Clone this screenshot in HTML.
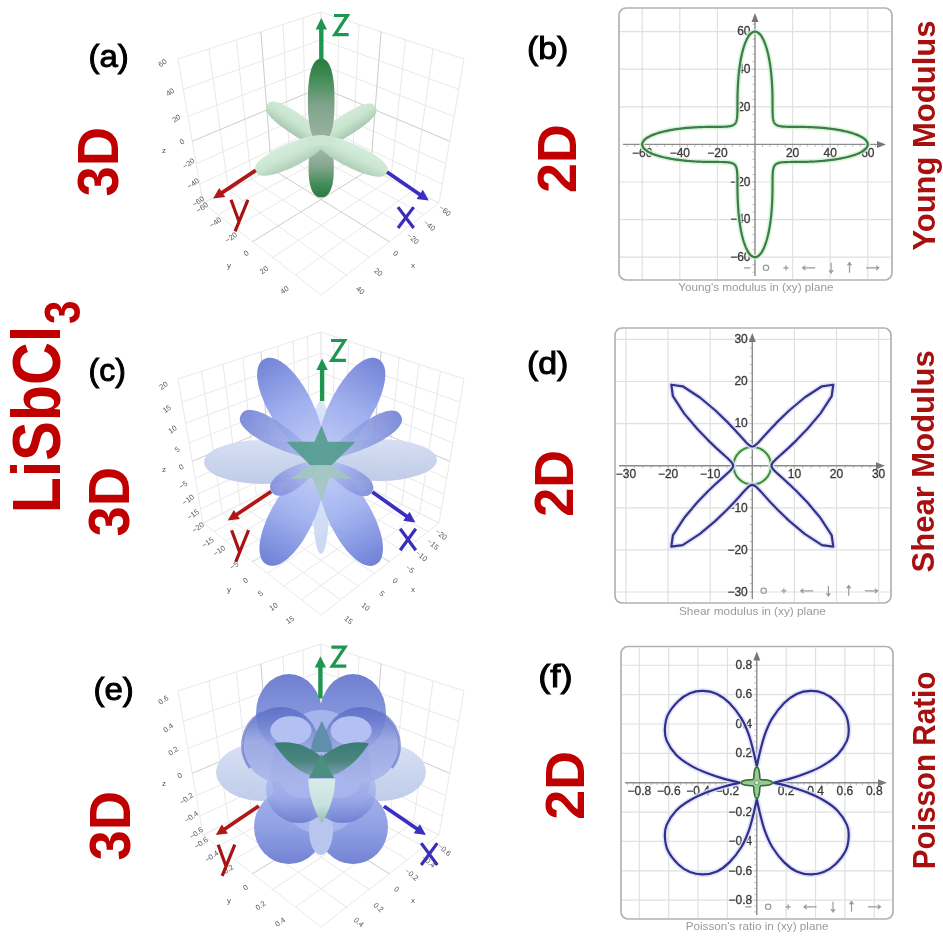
<!DOCTYPE html>
<html><head><meta charset="utf-8"><style>html,body{margin:0;padding:0;background:#fff;overflow:hidden}svg{display:block;filter:blur(0.45px)}</style></head>
<body><svg width="943" height="942" viewBox="0 0 943 942" font-family="'Liberation Sans', sans-serif">
<rect width="943" height="942" fill="#fff"/>
<defs><linearGradient id="g1" x1="0" y1="0" x2="0" y2="1"><stop offset="0" stop-color="#d2ebd8" stop-opacity="1"/><stop offset="0.5" stop-color="#c8e4cf" stop-opacity="1"/><stop offset="1" stop-color="#a8c8b1" stop-opacity="1"/></linearGradient><linearGradient id="g2" x1="0" y1="0" x2="0" y2="1"><stop offset="0" stop-color="#d4ecda" stop-opacity="1"/><stop offset="0.45" stop-color="#cbe6d2" stop-opacity="1"/><stop offset="1" stop-color="#adcdb5" stop-opacity="1"/></linearGradient><linearGradient id="g3" gradientUnits="userSpaceOnUse" x1="359.1" y1="146.2" x2="348.9" y2="167.4"><stop offset="0" stop-color="#d6eddc" stop-opacity="1"/><stop offset="0.5" stop-color="#cbe6d2" stop-opacity="1"/><stop offset="1" stop-color="#aecfb7" stop-opacity="1"/></linearGradient><linearGradient id="g4" gradientUnits="userSpaceOnUse" x1="283.4" y1="145.6" x2="293.3" y2="166.9"><stop offset="0" stop-color="#d6eddc" stop-opacity="1"/><stop offset="0.5" stop-color="#cbe6d2" stop-opacity="1"/><stop offset="1" stop-color="#aecfb7" stop-opacity="1"/></linearGradient><linearGradient id="g5" x1="0" y1="0" x2="1" y2="0"><stop offset="0" stop-color="#2a7b40" stop-opacity="1"/><stop offset="0.2" stop-color="#3d8a52" stop-opacity="1"/><stop offset="0.55" stop-color="#7fa48a" stop-opacity="1"/><stop offset="1" stop-color="#9db4a4" stop-opacity="1"/></linearGradient><linearGradient id="g6" x1="0" y1="0" x2="1" y2="0"><stop offset="0" stop-color="#aec0b4" stop-opacity="1"/><stop offset="0.45" stop-color="#88a892" stop-opacity="1"/><stop offset="0.8" stop-color="#3f8a55" stop-opacity="1"/><stop offset="1" stop-color="#2a7b40" stop-opacity="1"/></linearGradient><linearGradient id="g7" x1="0" y1="0" x2="0" y2="1"><stop offset="0" stop-color="#d6def2" stop-opacity="0.95"/><stop offset="0.5" stop-color="#c8d3ec" stop-opacity="0.95"/><stop offset="1" stop-color="#bcc9e7" stop-opacity="0.95"/></linearGradient><linearGradient id="g8" x1="0" y1="0" x2="0" y2="1"><stop offset="0" stop-color="#dde5f8" stop-opacity="0.9"/><stop offset="1" stop-color="#c5d2f2" stop-opacity="0.9"/></linearGradient><linearGradient id="g9" gradientUnits="userSpaceOnUse" x1="321.0" y1="461.0" x2="264.0" y2="359.3"><stop offset="0" stop-color="#c4cff6" stop-opacity="0.95"/><stop offset="0.5" stop-color="#9dadee" stop-opacity="0.95"/><stop offset="1" stop-color="#7080d6" stop-opacity="0.97"/></linearGradient><linearGradient id="g10" gradientUnits="userSpaceOnUse" x1="321.0" y1="461.0" x2="378.5" y2="359.3"><stop offset="0" stop-color="#c4cff6" stop-opacity="0.95"/><stop offset="0.5" stop-color="#9dadee" stop-opacity="0.95"/><stop offset="1" stop-color="#7080d6" stop-opacity="0.97"/></linearGradient><linearGradient id="g11" gradientUnits="userSpaceOnUse" x1="321.0" y1="461.0" x2="266.8" y2="564.5"><stop offset="0" stop-color="#c6d2f7" stop-opacity="0.95"/><stop offset="0.5" stop-color="#9fb0ef" stop-opacity="0.95"/><stop offset="1" stop-color="#6c7dd6" stop-opacity="0.97"/></linearGradient><linearGradient id="g12" gradientUnits="userSpaceOnUse" x1="321.0" y1="461.0" x2="375.7" y2="564.5"><stop offset="0" stop-color="#c6d2f7" stop-opacity="0.95"/><stop offset="0.5" stop-color="#9fb0ef" stop-opacity="0.95"/><stop offset="1" stop-color="#6c7dd6" stop-opacity="0.97"/></linearGradient><linearGradient id="g13" gradientUnits="userSpaceOnUse" x1="321.0" y1="461.0" x2="241.2" y2="414.5"><stop offset="0" stop-color="#b2c0f2" stop-opacity="0.85"/><stop offset="1" stop-color="#7484d6" stop-opacity="0.93"/></linearGradient><linearGradient id="g14" gradientUnits="userSpaceOnUse" x1="321.0" y1="461.0" x2="400.6" y2="415.2"><stop offset="0" stop-color="#b2c0f2" stop-opacity="0.85"/><stop offset="1" stop-color="#7484d6" stop-opacity="0.93"/></linearGradient><linearGradient id="g15" gradientUnits="userSpaceOnUse" x1="321.0" y1="461.0" x2="271.5" y2="491.5"><stop offset="0" stop-color="#b8c5f3" stop-opacity="0.85"/><stop offset="1" stop-color="#7d8cda" stop-opacity="0.93"/></linearGradient><linearGradient id="g16" gradientUnits="userSpaceOnUse" x1="321.0" y1="461.0" x2="372.0" y2="492.0"><stop offset="0" stop-color="#b8c5f3" stop-opacity="0.85"/><stop offset="1" stop-color="#7d8cda" stop-opacity="0.93"/></linearGradient><linearGradient id="g17" x1="0" y1="0" x2="0" y2="1"><stop offset="0" stop-color="#d6dff3" stop-opacity="0.95"/><stop offset="0.5" stop-color="#c9d4ee" stop-opacity="0.95"/><stop offset="1" stop-color="#bccaea" stop-opacity="0.95"/></linearGradient><linearGradient id="g18" x1="0" y1="0" x2="0" y2="1"><stop offset="0" stop-color="#7080d0" stop-opacity="1"/><stop offset="0.5" stop-color="#8494dc" stop-opacity="1"/><stop offset="1" stop-color="#97a7e5" stop-opacity="1"/></linearGradient><linearGradient id="g19" x1="0" y1="0" x2="0" y2="1"><stop offset="0" stop-color="#a3b2ec" stop-opacity="1"/><stop offset="0.5" stop-color="#91a1e4" stop-opacity="1"/><stop offset="1" stop-color="#7383d4" stop-opacity="1"/></linearGradient><linearGradient id="g20" x1="0" y1="0" x2="0" y2="1"><stop offset="0" stop-color="#aebaed" stop-opacity="0.6"/><stop offset="0.6" stop-color="#98a7e6" stop-opacity="0.7"/><stop offset="1" stop-color="#6677cc" stop-opacity="0.85"/></linearGradient><linearGradient id="g21" x1="0" y1="0" x2="0" y2="1"><stop offset="0" stop-color="#5d6ec6" stop-opacity="0.92"/><stop offset="0.22" stop-color="#6f80d0" stop-opacity="0.9"/><stop offset="0.5" stop-color="#94a3e2" stop-opacity="0.85"/><stop offset="1" stop-color="#aab6ea" stop-opacity="0.85"/></linearGradient><linearGradient id="g22" x1="0" y1="0" x2="0" y2="1"><stop offset="0" stop-color="#3a7d74" stop-opacity="1"/><stop offset="0.55" stop-color="#4a857e" stop-opacity="1"/><stop offset="1" stop-color="#7d9fb5" stop-opacity="1"/></linearGradient><linearGradient id="g23" x1="0" y1="0" x2="0" y2="1"><stop offset="0" stop-color="#d6ebea" stop-opacity="1"/><stop offset="0.6" stop-color="#c6e2de" stop-opacity="1"/><stop offset="1" stop-color="#8fbfae" stop-opacity="1"/></linearGradient></defs><path d="M321.0,144.0L203.0,203.0 M321.0,144.0L439.0,203.0 M321.0,144.0L321.0,12.0 M321.0,144.0L203.0,203.0 M321.0,144.0L321.0,12.0 M321.0,144.0L439.0,203.0 M335.9,151.5L217.9,214.6 M306.1,151.5L424.1,214.6 M306.1,151.5L302.9,17.9 M321.0,126.7L199.7,184.2 M335.9,151.5L339.1,17.9 M321.0,126.7L442.3,184.2 M352.4,159.7L234.4,227.5 M289.6,159.7L407.6,227.5 M289.6,159.7L283.0,24.5 M321.0,107.9L196.2,163.7 M352.4,159.7L359.0,24.5 M321.0,107.9L445.8,163.7 M390.8,178.9L272.8,257.4 M251.2,178.9L369.2,257.4 M251.2,178.9L236.4,39.8 M321.0,64.7L188.0,116.5 M390.8,178.9L405.6,39.8 M321.0,64.7L454.0,116.5 M413.5,190.2L295.5,275.1 M228.5,190.2L346.5,275.1 M228.5,190.2L208.9,48.8 M321.0,39.7L183.3,89.3 M413.5,190.2L433.1,48.8 M321.0,39.7L458.7,89.3 M439.0,203.0L321.0,295.0 M203.0,203.0L321.0,295.0 M203.0,203.0L178.0,59.0 M321.0,12.0L178.0,59.0 M439.0,203.0L464.0,59.0 M321.0,12.0L464.0,59.0" stroke="#e9e9e9" stroke-width="1" fill="none"/><path d="M370.6,168.8L252.6,241.7 M271.4,168.8L389.4,241.7 M271.4,168.8L260.9,31.7 M321.0,87.3L192.3,141.2 M370.6,168.8L381.1,31.7 M321.0,87.3L449.7,141.2" stroke="#cdcdcd" stroke-width="1" fill="none"/><text transform="translate(164.0,65.0) rotate(-35)" font-size="7.5" fill="#555" text-anchor="middle">60</text><text transform="translate(171.6,94.2) rotate(-35)" font-size="7.5" fill="#555" text-anchor="middle">40</text><text transform="translate(177.8,120.4) rotate(-35)" font-size="7.5" fill="#555" text-anchor="middle">20</text><text transform="translate(183.5,143.8) rotate(-35)" font-size="7.5" fill="#555" text-anchor="middle">0</text><text transform="translate(190.0,165.5) rotate(-35)" font-size="7.5" fill="#555" text-anchor="middle">−20</text><text transform="translate(194.5,185.5) rotate(-35)" font-size="7.5" fill="#555" text-anchor="middle">−40</text><text transform="translate(199.7,203.5) rotate(-35)" font-size="7.5" fill="#555" text-anchor="middle">−60</text><text transform="translate(203.5,209.5) rotate(-35)" font-size="7.5" fill="#555" text-anchor="middle">−60</text><text transform="translate(216.8,224.5) rotate(-35)" font-size="7.5" fill="#555" text-anchor="middle">−40</text><text transform="translate(232.5,239.5) rotate(-35)" font-size="7.5" fill="#555" text-anchor="middle">−20</text><text transform="translate(247.6,255.3) rotate(-35)" font-size="7.5" fill="#555" text-anchor="middle">0</text><text transform="translate(265.4,272.0) rotate(-35)" font-size="7.5" fill="#555" text-anchor="middle">20</text><text transform="translate(286.0,292.0) rotate(-35)" font-size="7.5" fill="#555" text-anchor="middle">40</text><text transform="translate(443.4,212.5) rotate(40)" font-size="7.5" fill="#555" text-anchor="middle">−60</text><text transform="translate(427.8,227.3) rotate(40)" font-size="7.5" fill="#555" text-anchor="middle">−40</text><text transform="translate(411.4,240.5) rotate(40)" font-size="7.5" fill="#555" text-anchor="middle">−20</text><text transform="translate(394.0,255.3) rotate(40)" font-size="7.5" fill="#555" text-anchor="middle">0</text><text transform="translate(376.8,274.1) rotate(40)" font-size="7.5" fill="#555" text-anchor="middle">20</text><text transform="translate(358.8,292.2) rotate(40)" font-size="7.5" fill="#555" text-anchor="middle">40</text><text x="164" y="153" font-size="8" fill="#555" text-anchor="middle">z</text><text x="229" y="268" font-size="8" fill="#555" text-anchor="middle">y</text><text x="413" y="268" font-size="8" fill="#555" text-anchor="middle">x</text><path d="M36.48,0.00 L36.42,1.38 L36.25,2.30 L35.96,3.10 L35.55,3.82 L35.03,4.49 L34.40,5.11 L33.65,5.68 L32.79,6.22 L31.82,6.73 L30.73,7.20 L29.53,7.64 L28.22,8.05 L26.79,8.42 L25.26,8.76 L23.60,9.07 L21.83,9.35 L19.93,9.59 L17.91,9.81 L15.74,9.99 L13.40,10.14 L10.87,10.25 L8.07,10.33 L4.84,10.38 L0.00,10.40 L-4.84,10.38 L-8.07,10.33 L-10.87,10.25 L-13.40,10.14 L-15.74,9.99 L-17.91,9.81 L-19.93,9.59 L-21.83,9.35 L-23.60,9.07 L-25.26,8.76 L-26.79,8.42 L-28.22,8.05 L-29.53,7.64 L-30.73,7.20 L-31.82,6.73 L-32.79,6.22 L-33.65,5.68 L-34.40,5.11 L-35.03,4.49 L-35.55,3.82 L-35.96,3.10 L-36.25,2.30 L-36.42,1.38 L-36.48,0.00 L-36.42,-1.38 L-36.25,-2.30 L-35.96,-3.10 L-35.55,-3.82 L-35.03,-4.49 L-34.40,-5.11 L-33.65,-5.68 L-32.79,-6.22 L-31.82,-6.73 L-30.73,-7.20 L-29.53,-7.64 L-28.22,-8.05 L-26.79,-8.42 L-25.26,-8.76 L-23.60,-9.07 L-21.83,-9.35 L-19.93,-9.59 L-17.91,-9.81 L-15.74,-9.99 L-13.40,-10.14 L-10.87,-10.25 L-8.07,-10.33 L-4.84,-10.38 L-0.00,-10.40 L4.84,-10.38 L8.07,-10.33 L10.87,-10.25 L13.40,-10.14 L15.74,-9.99 L17.91,-9.81 L19.93,-9.59 L21.83,-9.35 L23.60,-9.07 L25.26,-8.76 L26.79,-8.42 L28.22,-8.05 L29.53,-7.64 L30.73,-7.20 L31.82,-6.73 L32.79,-6.22 L33.65,-5.68 L34.40,-5.11 L35.03,-4.49 L35.55,-3.82 L35.96,-3.10 L36.25,-2.30 L36.42,-1.38Z" transform="translate(297.41,125.04) rotate(34.08)" fill="url(#g1)" /><path d="M36.11,0.00 L36.06,1.38 L35.88,2.30 L35.60,3.10 L35.20,3.82 L34.68,4.49 L34.06,5.11 L33.32,5.68 L32.46,6.22 L31.50,6.73 L30.42,7.20 L29.24,7.64 L27.94,8.05 L26.53,8.42 L25.00,8.76 L23.37,9.07 L21.61,9.35 L19.73,9.59 L17.73,9.81 L15.58,9.99 L13.27,10.14 L10.76,10.25 L7.99,10.33 L4.79,10.38 L0.00,10.40 L-4.79,10.38 L-7.99,10.33 L-10.76,10.25 L-13.27,10.14 L-15.58,9.99 L-17.73,9.81 L-19.73,9.59 L-21.61,9.35 L-23.37,9.07 L-25.00,8.76 L-26.53,8.42 L-27.94,8.05 L-29.24,7.64 L-30.42,7.20 L-31.50,6.73 L-32.46,6.22 L-33.32,5.68 L-34.06,5.11 L-34.68,4.49 L-35.20,3.82 L-35.60,3.10 L-35.88,2.30 L-36.06,1.38 L-36.11,0.00 L-36.06,-1.38 L-35.88,-2.30 L-35.60,-3.10 L-35.20,-3.82 L-34.68,-4.49 L-34.06,-5.11 L-33.32,-5.68 L-32.46,-6.22 L-31.50,-6.73 L-30.42,-7.20 L-29.24,-7.64 L-27.94,-8.05 L-26.53,-8.42 L-25.00,-8.76 L-23.37,-9.07 L-21.61,-9.35 L-19.73,-9.59 L-17.73,-9.81 L-15.58,-9.99 L-13.27,-10.14 L-10.76,-10.25 L-7.99,-10.33 L-4.79,-10.38 L-0.00,-10.40 L4.79,-10.38 L7.99,-10.33 L10.76,-10.25 L13.27,-10.14 L15.58,-9.99 L17.73,-9.81 L19.73,-9.59 L21.61,-9.35 L23.37,-9.07 L25.00,-8.76 L26.53,-8.42 L27.94,-8.05 L29.24,-7.64 L30.42,-7.20 L31.50,-6.73 L32.46,-6.22 L33.32,-5.68 L34.06,-5.11 L34.68,-4.49 L35.20,-3.82 L35.60,-3.10 L35.88,-2.30 L36.06,-1.38Z" transform="translate(344.77,125.99) rotate(-32.28)" fill="url(#g1)" /><path d="M42.10,0.00 L42.02,1.37 L41.80,2.44 L41.42,3.41 L40.90,4.31 L40.23,5.17 L39.41,5.97 L38.45,6.74 L37.34,7.46 L36.10,8.15 L34.71,8.79 L33.19,9.40 L31.54,9.96 L29.75,10.49 L27.84,10.97 L25.80,11.40 L23.63,11.80 L21.33,12.15 L18.91,12.45 L16.35,12.71 L13.65,12.92 L10.78,13.09 L7.72,13.21 L4.34,13.28 L0.00,13.30 L-4.34,13.28 L-7.72,13.21 L-10.78,13.09 L-13.65,12.92 L-16.35,12.71 L-18.91,12.45 L-21.33,12.15 L-23.63,11.80 L-25.80,11.40 L-27.84,10.97 L-29.75,10.49 L-31.54,9.96 L-33.19,9.40 L-34.71,8.79 L-36.10,8.15 L-37.34,7.46 L-38.45,6.74 L-39.41,5.97 L-40.23,5.17 L-40.90,4.31 L-41.42,3.41 L-41.80,2.44 L-42.02,1.37 L-42.10,0.00 L-42.02,-1.37 L-41.80,-2.44 L-41.42,-3.41 L-40.90,-4.31 L-40.23,-5.17 L-39.41,-5.97 L-38.45,-6.74 L-37.34,-7.46 L-36.10,-8.15 L-34.71,-8.79 L-33.19,-9.40 L-31.54,-9.96 L-29.75,-10.49 L-27.84,-10.97 L-25.80,-11.40 L-23.63,-11.80 L-21.33,-12.15 L-18.91,-12.45 L-16.35,-12.71 L-13.65,-12.92 L-10.78,-13.09 L-7.72,-13.21 L-4.34,-13.28 L-0.00,-13.30 L4.34,-13.28 L7.72,-13.21 L10.78,-13.09 L13.65,-12.92 L16.35,-12.71 L18.91,-12.45 L21.33,-12.15 L23.63,-11.80 L25.80,-11.40 L27.84,-10.97 L29.75,-10.49 L31.54,-9.96 L33.19,-9.40 L34.71,-8.79 L36.10,-8.15 L37.34,-7.46 L38.45,-6.74 L39.41,-5.97 L40.23,-5.17 L40.90,-4.31 L41.42,-3.41 L41.80,-2.44 L42.02,-1.37Z" transform="translate(321.20,100.90) rotate(90.00)" fill="url(#g5)" /><path d="M29.20,0.00 L29.15,1.30 L28.99,2.31 L28.73,3.23 L28.37,4.09 L27.90,4.89 L27.34,5.66 L26.67,6.38 L25.90,7.07 L25.04,7.72 L24.08,8.33 L23.02,8.90 L21.88,9.44 L20.64,9.93 L19.31,10.39 L17.89,10.80 L16.39,11.18 L14.80,11.51 L13.11,11.80 L11.34,12.04 L9.47,12.24 L7.48,12.40 L5.35,12.51 L3.01,12.58 L0.00,12.60 L-3.01,12.58 L-5.35,12.51 L-7.48,12.40 L-9.47,12.24 L-11.34,12.04 L-13.11,11.80 L-14.80,11.51 L-16.39,11.18 L-17.89,10.80 L-19.31,10.39 L-20.64,9.93 L-21.88,9.44 L-23.02,8.90 L-24.08,8.33 L-25.04,7.72 L-25.90,7.07 L-26.67,6.38 L-27.34,5.66 L-27.90,4.89 L-28.37,4.09 L-28.73,3.23 L-28.99,2.31 L-29.15,1.30 L-29.20,0.00 L-29.15,-1.30 L-28.99,-2.31 L-28.73,-3.23 L-28.37,-4.09 L-27.90,-4.89 L-27.34,-5.66 L-26.67,-6.38 L-25.90,-7.07 L-25.04,-7.72 L-24.08,-8.33 L-23.02,-8.90 L-21.88,-9.44 L-20.64,-9.93 L-19.31,-10.39 L-17.89,-10.80 L-16.39,-11.18 L-14.80,-11.51 L-13.11,-11.80 L-11.34,-12.04 L-9.47,-12.24 L-7.48,-12.40 L-5.35,-12.51 L-3.01,-12.58 L-0.00,-12.60 L3.01,-12.58 L5.35,-12.51 L7.48,-12.40 L9.47,-12.24 L11.34,-12.04 L13.11,-11.80 L14.80,-11.51 L16.39,-11.18 L17.89,-10.80 L19.31,-10.39 L20.64,-9.93 L21.88,-9.44 L23.02,-8.90 L24.08,-8.33 L25.04,-7.72 L25.90,-7.07 L26.67,-6.38 L27.34,-5.66 L27.90,-4.89 L28.37,-4.09 L28.73,-3.23 L28.99,-2.31 L29.15,-1.30Z" transform="translate(321.20,168.20) rotate(90.00)" fill="url(#g6)" /><path d="M314.69,137.98 L314.45,138.66 L314.38,139.41 L314.46,140.24 L314.69,141.13 L315.08,142.08 L315.62,143.09 L316.31,144.15 L317.15,145.27 L318.13,146.43 L319.25,147.63 L320.50,148.87 L321.88,150.14 L323.38,151.44 L325.00,152.76 L326.72,154.09 L328.55,155.43 L330.47,156.78 L332.47,158.13 L334.55,159.47 L336.70,160.80 L338.91,162.11 L341.16,163.39 L343.45,164.65 L345.78,165.87 L348.12,167.05 L350.47,168.19 L352.82,169.27 L355.16,170.30 L357.48,171.27 L359.77,172.17 L362.02,173.01 L364.22,173.77 L366.36,174.45 L368.44,175.05 L370.44,175.56 L372.36,175.99 L374.19,176.33 L375.92,176.57 L377.54,176.71 L379.06,176.75 L380.46,176.69 L381.74,176.52 L382.90,176.24 L383.93,175.85 L384.84,175.33 L385.63,174.68 L386.31,173.84 L387.00,172.60 L387.00,172.60 L387.54,171.28 L387.76,170.23 L387.77,169.20 L387.61,168.17 L387.27,167.12 L386.76,166.04 L386.08,164.94 L385.25,163.81 L384.27,162.66 L383.14,161.48 L381.87,160.28 L380.46,159.07 L378.93,157.84 L377.27,156.60 L375.50,155.36 L373.63,154.12 L371.65,152.88 L369.59,151.65 L367.45,150.43 L365.24,149.23 L362.98,148.06 L360.66,146.91 L358.30,145.79 L355.91,144.70 L353.50,143.66 L351.09,142.66 L348.67,141.71 L346.27,140.82 L343.89,139.98 L341.54,139.20 L339.23,138.48 L336.98,137.83 L334.79,137.25 L332.67,136.74 L330.63,136.31 L328.67,135.95 L326.82,135.68 L325.07,135.48 L323.43,135.36 L321.91,135.32 L320.52,135.37 L319.26,135.50 L318.13,135.71 L317.14,136.01 L316.30,136.38 L315.61,136.84 L315.07,137.37 L314.69,137.98Z" fill="url(#g3)" /><path d="M327.34,138.04 L326.96,137.42 L326.43,136.89 L325.75,136.42 L324.92,136.04 L323.95,135.73 L322.84,135.50 L321.59,135.35 L320.21,135.28 L318.71,135.30 L317.09,135.39 L315.36,135.56 L313.52,135.81 L311.59,136.14 L309.57,136.54 L307.47,137.02 L305.30,137.56 L303.07,138.18 L300.79,138.86 L298.46,139.60 L296.10,140.40 L293.73,141.26 L291.33,142.17 L288.94,143.13 L286.56,144.14 L284.19,145.18 L281.85,146.26 L279.56,147.38 L277.31,148.52 L275.12,149.68 L273.00,150.86 L270.96,152.06 L269.00,153.27 L267.14,154.48 L265.39,155.69 L263.74,156.90 L262.22,158.10 L260.83,159.29 L259.56,160.46 L258.44,161.62 L257.46,162.76 L256.64,163.87 L255.97,164.96 L255.46,166.03 L255.12,167.07 L254.95,168.10 L254.96,169.12 L255.18,170.18 L255.70,171.50 L255.70,171.50 L256.38,172.75 L257.05,173.59 L257.83,174.26 L258.72,174.79 L259.74,175.20 L260.89,175.49 L262.15,175.68 L263.53,175.76 L265.03,175.74 L266.64,175.62 L268.35,175.41 L270.16,175.10 L272.06,174.70 L274.04,174.22 L276.10,173.65 L278.22,173.00 L280.40,172.28 L282.63,171.48 L284.90,170.61 L287.19,169.68 L289.51,168.69 L291.84,167.64 L294.17,166.54 L296.49,165.40 L298.79,164.22 L301.06,163.00 L303.29,161.75 L305.48,160.47 L307.61,159.18 L309.67,157.88 L311.66,156.56 L313.56,155.24 L315.37,153.93 L317.08,152.63 L318.69,151.34 L320.18,150.06 L321.55,148.82 L322.79,147.60 L323.90,146.42 L324.88,145.27 L325.71,144.17 L326.40,143.12 L326.93,142.12 L327.32,141.18 L327.56,140.30 L327.64,139.48 L327.57,138.72 L327.34,138.04Z" fill="url(#g4)" /><ellipse cx="321" cy="140.8" rx="15" ry="5" fill="#cbe6d1"/><path d="M321.3,59.5L321.3,28.5" stroke="#1e9650" stroke-width="4.4" fill="none"/><path d="M321.3,18.1L327.0,29.5L315.6,29.5Z" fill="#1e9650"/><path d="M255.7,170.4L221.4,193.1" stroke="#b01818" stroke-width="3.8" fill="none"/><path d="M213.1,198.6L219.2,187.9L225.3,197.1Z" fill="#b01818"/><path d="M387.0,172.0L420.5,195.0" stroke="#3a2ec4" stroke-width="3.8" fill="none"/><path d="M428.8,200.6L416.6,198.9L422.8,189.8Z" fill="#3a2ec4"/><path d="M334.0,15.5H347.4L334.8,34.6H348.7" stroke="#1e9650" stroke-width="3.2" fill="none" stroke-linejoin="miter"/><path d="M231.0,199.8L238.9,221.3M247.9,199.8L235.1,231.4" stroke="#a81212" stroke-width="3.2" fill="none" stroke-linecap="butt"/><path d="M398.0,207.1L413.7,228.0M413.7,207.1L398.0,228.0" stroke="#3a2eb8" stroke-width="3.2" fill="none"/><path d="M321.0,464.0L203.0,523.0 M321.0,464.0L439.0,523.0 M321.0,464.0L321.0,332.0 M321.0,464.0L203.0,523.0 M321.0,464.0L321.0,332.0 M321.0,464.0L439.0,523.0 M332.1,469.5L214.1,531.6 M309.9,469.5L427.9,531.6 M309.9,469.5L307.6,336.4 M321.0,451.2L200.6,509.0 M332.1,469.5L334.4,336.4 M321.0,451.2L441.4,509.0 M344.0,475.5L226.0,540.9 M298.0,475.5L416.0,540.9 M298.0,475.5L293.2,341.1 M321.0,437.5L198.0,494.1 M344.0,475.5L348.8,341.1 M321.0,437.5L444.0,494.1 M356.8,481.9L238.8,550.9 M285.2,481.9L403.2,550.9 M285.2,481.9L277.7,346.2 M321.0,423.0L195.2,478.2 M356.8,481.9L364.3,346.2 M321.0,423.0L446.8,478.2 M385.6,496.3L267.6,573.3 M256.4,496.3L374.4,573.3 M256.4,496.3L242.8,357.7 M321.0,390.6L189.1,442.9 M385.6,496.3L399.2,357.7 M321.0,390.6L452.9,442.9 M401.8,504.4L283.8,586.0 M240.2,504.4L358.2,586.0 M240.2,504.4L223.1,364.2 M321.0,372.5L185.7,423.2 M401.8,504.4L418.9,364.2 M321.0,372.5L456.3,423.2 M419.6,513.3L301.6,599.8 M222.4,513.3L340.4,599.8 M222.4,513.3L201.5,371.3 M321.0,353.1L182.0,402.0 M419.6,513.3L440.5,371.3 M321.0,353.1L460.0,402.0 M439.0,523.0L321.0,615.0 M203.0,523.0L321.0,615.0 M203.0,523.0L178.0,379.0 M321.0,332.0L178.0,379.0 M439.0,523.0L464.0,379.0 M321.0,332.0L464.0,379.0" stroke="#e9e9e9" stroke-width="1" fill="none"/><path d="M370.6,488.8L252.6,561.7 M271.4,488.8L389.4,561.7 M271.4,488.8L260.9,351.7 M321.0,407.3L192.3,461.2 M370.6,488.8L381.1,351.7 M321.0,407.3L449.7,461.2" stroke="#cdcdcd" stroke-width="1" fill="none"/><text transform="translate(165.0,387.5) rotate(-35)" font-size="7.5" fill="#555" text-anchor="middle">20</text><text transform="translate(168.3,410.9) rotate(-35)" font-size="7.5" fill="#555" text-anchor="middle">15</text><text transform="translate(173.9,431.5) rotate(-35)" font-size="7.5" fill="#555" text-anchor="middle">10</text><text transform="translate(178.7,451.5) rotate(-35)" font-size="7.5" fill="#555" text-anchor="middle">5</text><text transform="translate(182.6,469.0) rotate(-35)" font-size="7.5" fill="#555" text-anchor="middle">0</text><text transform="translate(184.6,487.0) rotate(-35)" font-size="7.5" fill="#555" text-anchor="middle">−5</text><text transform="translate(189.5,501.8) rotate(-35)" font-size="7.5" fill="#555" text-anchor="middle">−10</text><text transform="translate(194.4,516.6) rotate(-35)" font-size="7.5" fill="#555" text-anchor="middle">−15</text><text transform="translate(199.4,529.5) rotate(-35)" font-size="7.5" fill="#555" text-anchor="middle">−20</text><text transform="translate(209.2,544.6) rotate(-35)" font-size="7.5" fill="#555" text-anchor="middle">−15</text><text transform="translate(220.7,552.8) rotate(-35)" font-size="7.5" fill="#555" text-anchor="middle">−10</text><text transform="translate(235.6,567.6) rotate(-35)" font-size="7.5" fill="#555" text-anchor="middle">−5</text><text transform="translate(247.0,582.5) rotate(-35)" font-size="7.5" fill="#555" text-anchor="middle">0</text><text transform="translate(261.9,595.6) rotate(-35)" font-size="7.5" fill="#555" text-anchor="middle">5</text><text transform="translate(275.0,608.8) rotate(-35)" font-size="7.5" fill="#555" text-anchor="middle">10</text><text transform="translate(291.5,621.9) rotate(-35)" font-size="7.5" fill="#555" text-anchor="middle">15</text><text transform="translate(439.6,536.4) rotate(40)" font-size="7.5" fill="#555" text-anchor="middle">−20</text><text transform="translate(431.3,546.3) rotate(40)" font-size="7.5" fill="#555" text-anchor="middle">−15</text><text transform="translate(419.8,557.8) rotate(40)" font-size="7.5" fill="#555" text-anchor="middle">−10</text><text transform="translate(408.3,570.9) rotate(40)" font-size="7.5" fill="#555" text-anchor="middle">−5</text><text transform="translate(393.5,582.5) rotate(40)" font-size="7.5" fill="#555" text-anchor="middle">0</text><text transform="translate(380.3,595.6) rotate(40)" font-size="7.5" fill="#555" text-anchor="middle">5</text><text transform="translate(363.9,608.8) rotate(40)" font-size="7.5" fill="#555" text-anchor="middle">10</text><text transform="translate(347.0,621.9) rotate(40)" font-size="7.5" fill="#555" text-anchor="middle">15</text><text x="164" y="472" font-size="8" fill="#555" text-anchor="middle">z</text><text x="229" y="592" font-size="8" fill="#555" text-anchor="middle">y</text><text x="413" y="592" font-size="8" fill="#555" text-anchor="middle">x</text><ellipse cx="263" cy="462" rx="59" ry="22" fill="url(#g7)"/><ellipse cx="379" cy="460" rx="58" ry="21" fill="url(#g7)"/><ellipse cx="321" cy="507" rx="8" ry="47" fill="url(#g8)"/><ellipse cx="321" cy="425" rx="7" ry="25" fill="url(#g8)"/><path d="M321.00,461.00 L321.51,460.57 L322.10,459.81 L322.66,458.79 L323.17,457.51 L323.60,456.00 L323.94,454.26 L324.19,452.32 L324.34,450.18 L324.38,447.85 L324.30,445.34 L324.11,442.67 L323.80,439.86 L323.37,436.91 L322.82,433.84 L322.15,430.66 L321.36,427.38 L320.46,424.04 L319.43,420.63 L318.30,417.17 L317.05,413.68 L315.70,410.18 L314.25,406.68 L312.70,403.20 L311.06,399.75 L309.34,396.34 L307.53,393.00 L305.66,389.74 L303.72,386.57 L301.73,383.50 L299.68,380.55 L297.60,377.74 L295.48,375.07 L293.34,372.55 L291.19,370.21 L289.03,368.04 L286.87,366.06 L284.72,364.27 L282.60,362.69 L280.50,361.31 L278.44,360.16 L276.43,359.22 L274.47,358.52 L272.57,358.04 L270.74,357.80 L268.97,357.80 L267.28,358.03 L265.65,358.52 L264.00,359.30 L264.00,359.30 L262.47,360.30 L261.21,361.44 L260.12,362.76 L259.21,364.26 L258.45,365.95 L257.87,367.82 L257.45,369.86 L257.19,372.07 L257.11,374.43 L257.18,376.93 L257.42,379.57 L257.83,382.33 L258.39,385.21 L259.11,388.18 L259.99,391.25 L261.02,394.38 L262.19,397.58 L263.50,400.83 L264.95,404.11 L266.53,407.41 L268.22,410.72 L270.03,414.02 L271.93,417.31 L273.94,420.55 L276.03,423.75 L278.19,426.89 L280.42,429.96 L282.70,432.94 L285.02,435.82 L287.38,438.59 L289.75,441.24 L292.14,443.77 L294.52,446.15 L296.88,448.38 L299.21,450.45 L301.51,452.35 L303.75,454.09 L305.92,455.64 L308.02,457.01 L310.03,458.20 L311.93,459.19 L313.72,460.00 L315.38,460.61 L316.89,461.03 L318.24,461.26 L319.42,461.32 L320.37,461.21 L321.00,461.00Z" fill="url(#g9)" /><path d="M321.00,461.00 L321.63,461.21 L322.58,461.32 L323.76,461.27 L325.11,461.04 L326.63,460.62 L328.29,460.01 L330.08,459.22 L331.99,458.23 L334.01,457.04 L336.11,455.68 L338.29,454.13 L340.54,452.40 L342.85,450.49 L345.19,448.42 L347.57,446.20 L349.96,443.82 L352.35,441.30 L354.74,438.65 L357.11,435.88 L359.45,433.00 L361.75,430.02 L363.99,426.96 L366.17,423.82 L368.27,420.62 L370.29,417.38 L372.22,414.09 L374.04,410.79 L375.75,407.48 L377.34,404.18 L378.80,400.90 L380.13,397.65 L381.32,394.45 L382.36,391.31 L383.25,388.24 L383.99,385.26 L384.57,382.39 L384.99,379.62 L385.24,376.98 L385.33,374.47 L385.25,372.11 L385.01,369.90 L384.59,367.85 L384.02,365.98 L383.27,364.29 L382.36,362.77 L381.28,361.45 L380.02,360.30 L378.50,359.30 L378.50,359.30 L376.86,358.51 L375.22,358.02 L373.53,357.78 L371.77,357.78 L369.93,358.02 L368.03,358.49 L366.06,359.19 L364.05,360.12 L361.98,361.27 L359.88,362.64 L357.74,364.22 L355.59,366.00 L353.42,367.98 L351.25,370.15 L349.08,372.49 L346.93,375.00 L344.80,377.67 L342.70,380.48 L340.64,383.43 L338.63,386.50 L336.68,389.67 L334.79,392.93 L332.97,396.27 L331.23,399.68 L329.57,403.13 L328.00,406.61 L326.54,410.12 L325.17,413.62 L323.91,417.11 L322.75,420.57 L321.71,423.98 L320.79,427.33 L319.99,430.60 L319.30,433.79 L318.74,436.86 L318.30,439.82 L317.97,442.64 L317.77,445.31 L317.68,447.82 L317.71,450.15 L317.85,452.30 L318.09,454.24 L318.42,455.98 L318.85,457.50 L319.35,458.78 L319.91,459.81 L320.49,460.57 L321.00,461.00Z" fill="url(#g10)" /><path d="M321.00,461.00 L320.36,460.81 L319.41,460.73 L318.24,460.82 L316.89,461.09 L315.39,461.56 L313.74,462.22 L311.98,463.08 L310.10,464.13 L308.13,465.37 L306.07,466.81 L303.94,468.43 L301.74,470.23 L299.50,472.21 L297.22,474.35 L294.92,476.65 L292.61,479.10 L290.30,481.70 L287.99,484.42 L285.71,487.27 L283.47,490.22 L281.27,493.27 L279.13,496.41 L277.05,499.61 L275.05,502.88 L273.14,506.19 L271.32,509.53 L269.60,512.89 L268.00,516.25 L266.52,519.61 L265.16,522.93 L263.94,526.22 L262.85,529.46 L261.91,532.63 L261.12,535.73 L260.48,538.73 L259.99,541.62 L259.66,544.40 L259.50,547.05 L259.49,549.56 L259.64,551.92 L259.96,554.12 L260.43,556.15 L261.07,558.00 L261.87,559.67 L262.83,561.15 L263.95,562.44 L265.25,563.55 L266.80,564.50 L266.80,564.50 L268.47,565.23 L270.11,565.67 L271.82,565.86 L273.58,565.80 L275.41,565.51 L277.29,564.98 L279.23,564.21 L281.22,563.22 L283.25,562.00 L285.30,560.56 L287.39,558.92 L289.48,557.06 L291.59,555.02 L293.69,552.78 L295.78,550.37 L297.85,547.79 L299.89,545.05 L301.90,542.17 L303.86,539.16 L305.77,536.03 L307.62,532.80 L309.41,529.48 L311.12,526.08 L312.75,522.62 L314.29,519.12 L315.75,515.58 L317.10,512.04 L318.36,508.49 L319.51,504.96 L320.55,501.47 L321.48,498.03 L322.29,494.65 L322.99,491.35 L323.57,488.14 L324.03,485.05 L324.38,482.09 L324.61,479.26 L324.73,476.58 L324.74,474.07 L324.64,471.74 L324.43,469.60 L324.13,467.66 L323.74,465.93 L323.26,464.43 L322.72,463.17 L322.13,462.16 L321.52,461.41 L321.00,461.00Z" fill="url(#g11)" /><path d="M321.00,461.00 L320.48,461.42 L319.88,462.16 L319.29,463.18 L318.75,464.44 L318.28,465.95 L317.90,467.68 L317.61,469.62 L317.41,471.77 L317.32,474.10 L317.34,476.62 L317.47,479.30 L317.71,482.13 L318.07,485.10 L318.55,488.19 L319.15,491.40 L319.86,494.70 L320.69,498.08 L321.64,501.53 L322.70,505.03 L323.86,508.56 L325.13,512.10 L326.51,515.65 L327.98,519.19 L329.54,522.69 L331.18,526.15 L332.91,529.55 L334.71,532.87 L336.58,536.11 L338.51,539.23 L340.48,542.24 L342.50,545.12 L344.56,547.85 L346.64,550.43 L348.75,552.84 L350.86,555.08 L352.97,557.12 L355.08,558.97 L357.17,560.61 L359.23,562.04 L361.27,563.26 L363.26,564.25 L365.21,565.01 L367.09,565.53 L368.92,565.83 L370.69,565.88 L372.39,565.68 L374.03,565.24 L375.70,564.50 L375.70,564.50 L377.25,563.54 L378.54,562.43 L379.66,561.14 L380.61,559.65 L381.40,557.97 L382.03,556.11 L382.50,554.08 L382.80,551.88 L382.95,549.51 L382.93,547.00 L382.75,544.35 L382.41,541.57 L381.91,538.67 L381.25,535.66 L380.45,532.57 L379.49,529.40 L378.39,526.16 L377.15,522.86 L375.78,519.54 L374.28,516.18 L372.66,512.82 L370.93,509.46 L369.09,506.12 L367.16,502.81 L365.15,499.54 L363.05,496.34 L360.90,493.20 L358.68,490.16 L356.42,487.20 L354.13,484.36 L351.81,481.64 L349.49,479.05 L347.16,476.60 L344.85,474.30 L342.56,472.16 L340.31,470.19 L338.11,468.39 L335.97,466.77 L333.90,465.34 L331.92,464.10 L330.04,463.05 L328.26,462.20 L326.62,461.54 L325.11,461.08 L323.76,460.81 L322.59,460.72 L321.63,460.81 L321.00,461.00Z" fill="url(#g12)" /><path d="M321.00,461.00 L320.94,460.90 L320.76,460.62 L320.45,460.19 L320.00,459.60 L319.41,458.86 L318.69,457.98 L317.84,456.97 L316.85,455.83 L315.74,454.57 L314.50,453.20 L313.13,451.74 L311.65,450.18 L310.06,448.53 L308.35,446.82 L306.55,445.04 L304.64,443.21 L302.65,441.33 L300.57,439.43 L298.42,437.51 L296.20,435.57 L293.92,433.64 L291.59,431.72 L289.21,429.83 L286.80,427.96 L284.37,426.15 L281.91,424.38 L279.45,422.68 L277.00,421.05 L274.55,419.51 L272.12,418.05 L269.73,416.70 L267.37,415.44 L265.07,414.30 L262.82,413.28 L260.64,412.39 L258.53,411.62 L256.51,410.99 L254.58,410.49 L252.75,410.14 L251.02,409.94 L249.40,409.88 L247.90,409.98 L246.53,410.23 L245.27,410.64 L244.14,411.22 L243.12,411.99 L242.19,412.99 L241.20,414.50 L241.20,414.50 L240.38,416.11 L239.96,417.41 L239.80,418.67 L239.85,419.95 L240.11,421.24 L240.57,422.56 L241.23,423.91 L242.07,425.29 L243.10,426.69 L244.31,428.11 L245.69,429.55 L247.24,431.00 L248.95,432.45 L250.80,433.91 L252.80,435.36 L254.93,436.81 L257.18,438.24 L259.54,439.65 L262.00,441.05 L264.55,442.41 L267.18,443.75 L269.87,445.05 L272.62,446.31 L275.40,447.54 L278.21,448.71 L281.03,449.85 L283.85,450.93 L286.65,451.96 L289.43,452.94 L292.16,453.86 L294.84,454.73 L297.46,455.54 L299.99,456.30 L302.43,456.99 L304.76,457.63 L306.97,458.20 L309.06,458.72 L311.01,459.19 L312.81,459.59 L314.46,459.94 L315.93,460.24 L317.23,460.48 L318.35,460.68 L319.28,460.82 L320.02,460.92 L320.56,460.98 L320.88,461.00 L321.00,461.00Z" fill="url(#g13)" /><path d="M321.00,461.00 L321.11,461.00 L321.44,460.98 L321.98,460.93 L322.71,460.83 L323.64,460.70 L324.75,460.51 L326.05,460.28 L327.52,460.00 L329.16,459.66 L330.95,459.27 L332.89,458.82 L334.97,458.32 L337.18,457.76 L339.51,457.14 L341.94,456.47 L344.46,455.74 L347.06,454.95 L349.73,454.10 L352.46,453.20 L355.23,452.25 L358.02,451.24 L360.84,450.18 L363.65,449.07 L366.45,447.92 L369.22,446.72 L371.96,445.48 L374.64,444.20 L377.26,442.89 L379.81,441.54 L382.26,440.17 L384.62,438.78 L386.87,437.37 L388.99,435.94 L390.98,434.51 L392.83,433.07 L394.54,431.63 L396.08,430.19 L397.46,428.77 L398.67,427.36 L399.70,425.97 L400.55,424.60 L401.20,423.26 L401.67,421.94 L401.93,420.65 L401.99,419.38 L401.82,418.11 L401.42,416.81 L400.60,415.20 L400.60,415.20 L399.61,413.68 L398.70,412.68 L397.68,411.90 L396.56,411.31 L395.31,410.89 L393.94,410.63 L392.45,410.52 L390.84,410.57 L389.12,410.76 L387.29,411.09 L385.37,411.57 L383.35,412.19 L381.25,412.94 L379.08,413.81 L376.83,414.81 L374.53,415.93 L372.19,417.17 L369.80,418.50 L367.38,419.94 L364.94,421.46 L362.49,423.07 L360.03,424.74 L357.58,426.49 L355.15,428.28 L352.75,430.12 L350.37,432.00 L348.05,433.90 L345.77,435.81 L343.55,437.72 L341.40,439.62 L339.33,441.51 L337.34,443.36 L335.44,445.18 L333.64,446.94 L331.93,448.64 L330.34,450.27 L328.86,451.81 L327.50,453.27 L326.26,454.62 L325.14,455.87 L324.16,457.00 L323.31,458.00 L322.59,458.87 L322.00,459.61 L321.55,460.19 L321.24,460.63 L321.06,460.90 L321.00,461.00Z" fill="url(#g14)" /><path d="M321.00,461.00 L320.89,460.95 L320.63,460.87 L320.22,460.80 L319.67,460.74 L319.00,460.70 L318.20,460.68 L317.29,460.70 L316.27,460.75 L315.14,460.83 L313.92,460.96 L312.60,461.12 L311.20,461.33 L309.73,461.59 L308.19,461.88 L306.58,462.23 L304.92,462.62 L303.22,463.06 L301.49,463.55 L299.73,464.08 L297.95,464.66 L296.16,465.29 L294.37,465.96 L292.58,466.67 L290.82,467.43 L289.08,468.23 L287.37,469.07 L285.70,469.94 L284.08,470.85 L282.52,471.79 L281.03,472.75 L279.60,473.75 L278.26,474.76 L277.00,475.79 L275.82,476.84 L274.75,477.89 L273.77,478.96 L272.90,480.03 L272.14,481.09 L271.50,482.16 L270.97,483.21 L270.56,484.26 L270.27,485.29 L270.12,486.31 L270.09,487.32 L270.19,488.31 L270.44,489.30 L270.84,490.31 L271.50,491.50 L271.50,491.50 L272.27,492.63 L272.99,493.44 L273.76,494.10 L274.60,494.64 L275.51,495.07 L276.49,495.39 L277.54,495.60 L278.66,495.70 L279.84,495.70 L281.09,495.60 L282.38,495.41 L283.73,495.11 L285.11,494.72 L286.54,494.23 L288.00,493.65 L289.49,492.99 L291.00,492.24 L292.53,491.42 L294.06,490.52 L295.60,489.54 L297.14,488.51 L298.67,487.41 L300.19,486.26 L301.68,485.07 L303.15,483.83 L304.60,482.56 L306.00,481.26 L307.37,479.95 L308.68,478.62 L309.95,477.28 L311.17,475.95 L312.33,474.63 L313.42,473.33 L314.45,472.05 L315.41,470.80 L316.30,469.60 L317.11,468.44 L317.85,467.34 L318.51,466.31 L319.10,465.34 L319.60,464.45 L320.03,463.64 L320.37,462.92 L320.64,462.30 L320.83,461.79 L320.95,461.39 L321.00,461.12 L321.00,461.00Z" fill="url(#g15)" /><path d="M321.00,461.00 L321.00,461.12 L321.06,461.39 L321.19,461.80 L321.39,462.32 L321.67,462.94 L322.04,463.66 L322.49,464.48 L323.02,465.38 L323.63,466.36 L324.32,467.41 L325.10,468.52 L325.95,469.69 L326.87,470.91 L327.88,472.17 L328.95,473.46 L330.09,474.78 L331.29,476.11 L332.55,477.46 L333.87,478.81 L335.24,480.16 L336.65,481.49 L338.11,482.81 L339.60,484.10 L341.12,485.35 L342.67,486.56 L344.23,487.73 L345.81,488.84 L347.40,489.89 L348.98,490.88 L350.57,491.80 L352.14,492.64 L353.69,493.40 L355.22,494.08 L356.72,494.67 L358.18,495.16 L359.60,495.57 L360.98,495.87 L362.30,496.08 L363.57,496.19 L364.77,496.19 L365.91,496.09 L366.98,495.88 L367.98,495.57 L368.90,495.15 L369.74,494.61 L370.52,493.95 L371.24,493.13 L372.00,492.00 L372.00,492.00 L372.65,490.80 L373.05,489.79 L373.28,488.79 L373.37,487.80 L373.32,486.78 L373.14,485.76 L372.83,484.71 L372.39,483.66 L371.84,482.59 L371.16,481.51 L370.36,480.43 L369.46,479.35 L368.45,478.28 L367.33,477.21 L366.12,476.15 L364.81,475.10 L363.42,474.07 L361.95,473.07 L360.41,472.08 L358.80,471.13 L357.14,470.21 L355.42,469.32 L353.67,468.46 L351.88,467.65 L350.07,466.88 L348.24,466.14 L346.40,465.46 L344.56,464.82 L342.74,464.22 L340.93,463.67 L339.15,463.17 L337.41,462.72 L335.72,462.32 L334.08,461.96 L332.50,461.65 L330.99,461.39 L329.56,461.17 L328.22,461.00 L326.97,460.87 L325.82,460.77 L324.77,460.72 L323.84,460.70 L323.03,460.70 L322.35,460.74 L321.79,460.80 L321.38,460.87 L321.11,460.95 L321.00,461.00Z" fill="url(#g16)" /><path d="M321.5,425.4 L327.9,441.8 L355.5,441.8 L331.6,465.2 L310.3,465.2 L286.5,441.8 L314.6,441.8Z" fill="#559c8e" opacity="0.92"/><path d="M310.3,465.2 L331.6,465.2 L351.7,479 L329.4,478 L321.5,501.3 L312.5,478 L290.2,479Z" fill="#a2c6bf" opacity="0.9"/><path d="M322.1,401.0L322.1,368.9" stroke="#1e9650" stroke-width="4.4" fill="none"/><path d="M322.1,358.5L327.8,369.9L316.4,369.9Z" fill="#1e9650"/><path d="M271.2,491.5L236.0,515.0" stroke="#b01818" stroke-width="3.8" fill="none"/><path d="M227.7,520.6L233.8,509.9L239.9,519.1Z" fill="#b01818"/><path d="M372.4,492.0L407.3,516.8" stroke="#3a2ec4" stroke-width="3.8" fill="none"/><path d="M415.4,522.6L403.2,520.7L409.6,511.7Z" fill="#3a2ec4"/><path d="M331.0,340.5H344.6L331.8,360.3H345.9" stroke="#1e9650" stroke-width="3.2" fill="none" stroke-linejoin="miter"/><path d="M231.6,530.2L239.5,551.8M248.6,530.2L235.7,561.9" stroke="#a81212" stroke-width="3.2" fill="none" stroke-linecap="butt"/><path d="M400.2,528.8L415.8,550.3M415.8,528.8L400.2,550.3" stroke="#3a2eb8" stroke-width="3.2" fill="none"/><path d="M321.0,776.0L203.0,835.0 M321.0,776.0L439.0,835.0 M321.0,776.0L321.0,644.0 M321.0,776.0L203.0,835.0 M321.0,776.0L321.0,644.0 M321.0,776.0L439.0,835.0 M335.9,783.5L217.9,846.6 M306.1,783.5L424.1,846.6 M306.1,783.5L302.9,649.9 M321.0,758.7L199.7,816.2 M335.9,783.5L339.1,649.9 M321.0,758.7L442.3,816.2 M352.4,791.7L234.4,859.5 M289.6,791.7L407.6,859.5 M289.6,791.7L283.0,656.5 M321.0,739.9L196.2,795.7 M352.4,791.7L359.0,656.5 M321.0,739.9L445.8,795.7 M390.8,810.9L272.8,889.4 M251.2,810.9L369.2,889.4 M251.2,810.9L236.4,671.8 M321.0,696.7L188.0,748.5 M390.8,810.9L405.6,671.8 M321.0,696.7L454.0,748.5 M413.5,822.2L295.5,907.1 M228.5,822.2L346.5,907.1 M228.5,822.2L208.9,680.8 M321.0,671.7L183.3,721.3 M413.5,822.2L433.1,680.8 M321.0,671.7L458.7,721.3 M439.0,835.0L321.0,927.0 M203.0,835.0L321.0,927.0 M203.0,835.0L178.0,691.0 M321.0,644.0L178.0,691.0 M439.0,835.0L464.0,691.0 M321.0,644.0L464.0,691.0" stroke="#e9e9e9" stroke-width="1" fill="none"/><path d="M370.6,800.8L252.6,873.7 M271.4,800.8L389.4,873.7 M271.4,800.8L260.9,663.7 M321.0,719.3L192.3,773.2 M370.6,800.8L381.1,663.7 M321.0,719.3L449.7,773.2" stroke="#cdcdcd" stroke-width="1" fill="none"/><text transform="translate(164.8,702.0) rotate(-35)" font-size="7.5" fill="#555" text-anchor="middle">0.6</text><text transform="translate(169.7,729.9) rotate(-35)" font-size="7.5" fill="#555" text-anchor="middle">0.4</text><text transform="translate(174.7,753.0) rotate(-35)" font-size="7.5" fill="#555" text-anchor="middle">0.2</text><text transform="translate(181.3,777.6) rotate(-35)" font-size="7.5" fill="#555" text-anchor="middle">0</text><text transform="translate(187.8,800.7) rotate(-35)" font-size="7.5" fill="#555" text-anchor="middle">−0.2</text><text transform="translate(192.8,818.8) rotate(-35)" font-size="7.5" fill="#555" text-anchor="middle">−0.4</text><text transform="translate(197.7,835.2) rotate(-35)" font-size="7.5" fill="#555" text-anchor="middle">−0.6</text><text transform="translate(202.6,845.1) rotate(-35)" font-size="7.5" fill="#555" text-anchor="middle">−0.6</text><text transform="translate(213.0,858.5) rotate(-35)" font-size="7.5" fill="#555" text-anchor="middle">−0.4</text><text transform="translate(228.0,872.5) rotate(-35)" font-size="7.5" fill="#555" text-anchor="middle">−0.2</text><text transform="translate(247.0,889.5) rotate(-35)" font-size="7.5" fill="#555" text-anchor="middle">0</text><text transform="translate(261.9,907.6) rotate(-35)" font-size="7.5" fill="#555" text-anchor="middle">0.2</text><text transform="translate(281.6,924.1) rotate(-35)" font-size="7.5" fill="#555" text-anchor="middle">0.4</text><text transform="translate(442.9,851.7) rotate(40)" font-size="7.5" fill="#555" text-anchor="middle">−0.6</text><text transform="translate(427.0,863.5) rotate(40)" font-size="7.5" fill="#555" text-anchor="middle">−0.4</text><text transform="translate(410.0,876.4) rotate(40)" font-size="7.5" fill="#555" text-anchor="middle">−0.2</text><text transform="translate(395.1,891.2) rotate(40)" font-size="7.5" fill="#555" text-anchor="middle">0</text><text transform="translate(377.0,909.3) rotate(40)" font-size="7.5" fill="#555" text-anchor="middle">0.2</text><text transform="translate(357.3,924.1) rotate(40)" font-size="7.5" fill="#555" text-anchor="middle">0.4</text><text x="164" y="786" font-size="8" fill="#555" text-anchor="middle">z</text><text x="229" y="903" font-size="8" fill="#555" text-anchor="middle">y</text><text x="413" y="903" font-size="8" fill="#555" text-anchor="middle">x</text><ellipse cx="262" cy="772" rx="46" ry="29" fill="url(#g17)"/><ellipse cx="380" cy="772" rx="46" ry="29" fill="url(#g17)"/><ellipse cx="289" cy="713" rx="33" ry="39" fill="url(#g18)"/><ellipse cx="353" cy="713" rx="33" ry="39" fill="url(#g18)"/><ellipse cx="289" cy="827" rx="35" ry="37" fill="url(#g19)"/><ellipse cx="353" cy="827" rx="35" ry="37" fill="url(#g19)"/><ellipse cx="321" cy="772" rx="50" ry="62" fill="#a6b4ec"/><ellipse cx="321" cy="830" rx="12" ry="25" fill="#b8c5ef"/><path d="M266.0,790.0 a33,33 0 1,0 66,0 a33,33 0 1,0 -66,0Z M281.0,782.0 a22,16 0 1,0 44,0 a22,16 0 1,0 -44,0Z" fill="url(#g20)" fill-rule="evenodd"/><ellipse cx="303" cy="782" rx="22" ry="16" fill="#a9b6ec" fill-opacity="0.6"/><path d="M310.0,790.0 a33,33 0 1,0 66,0 a33,33 0 1,0 -66,0Z M317.0,782.0 a22,16 0 1,0 44,0 a22,16 0 1,0 -44,0Z" fill="url(#g20)" fill-rule="evenodd"/><ellipse cx="339" cy="782" rx="22" ry="16" fill="#a9b6ec" fill-opacity="0.6"/><path d="M243.0,745.0 a38,38 0 1,0 76,0 a38,38 0 1,0 -76,0Z M270.4,730.6 a20.5,14.4 0 1,0 41.0,0 a20.5,14.4 0 1,0 -41.0,0Z" fill="url(#g21)" fill-rule="evenodd"/><ellipse cx="290.9" cy="730.6" rx="20.5" ry="14.4" fill="#b4c0f1"/><path d="M323.0,745.0 a38,38 0 1,0 76,0 a38,38 0 1,0 -76,0Z M330.6,730.6 a20.5,14.4 0 1,0 41.0,0 a20.5,14.4 0 1,0 -41.0,0Z" fill="url(#g21)" fill-rule="evenodd"/><ellipse cx="351.1" cy="730.6" rx="20.5" ry="14.4" fill="#b4c0f1"/><path d="M262,712 A38,38 0 0,0 250,768" stroke="#6676cc" stroke-width="2.5" fill="none" stroke-opacity="0.7"/><path d="M380,712 A38,38 0 0,1 392,768" stroke="#6676cc" stroke-width="2.5" fill="none" stroke-opacity="0.7"/><path d="M321.8,720.8 C327,732 333,742 332.6,752 L311,752 C310.6,742 316.6,732 321.8,720.8Z" fill="#5f8faa"/><path d="M274,743.4 C290,740 306,744 321.5,757 L311,776 C298,771 285,761 274,743.4Z" fill="url(#g22)"/><path d="M369,743.4 C353,740 337,744 321.5,757 L332,776 C345,771 358,761 369,743.4Z" fill="url(#g22)"/><path d="M321.6,754 L334,778 L309,778Z" fill="#4b8f80"/><path d="M308.4,778.8 C308,795 315,812 321.8,823.4 C328.6,812 335.6,795 335.2,778.8Z" fill="url(#g23)"/><path d="M320.4,698.5L320.4,666.6" stroke="#1e9650" stroke-width="4.4" fill="none"/><path d="M320.4,656.2L326.1,667.6L314.7,667.6Z" fill="#1e9650"/><path d="M258.8,806.0L224.1,829.5" stroke="#b01818" stroke-width="3.8" fill="none"/><path d="M215.8,835.1L221.8,824.4L228.0,833.5Z" fill="#b01818"/><path d="M383.9,806.2L417.6,829.3" stroke="#3a2ec4" stroke-width="3.8" fill="none"/><path d="M425.9,834.9L413.7,833.2L419.9,824.2Z" fill="#3a2ec4"/><path d="M331.4,647.2H345.0L332.2,666.1H346.3" stroke="#1e9650" stroke-width="3.2" fill="none" stroke-linejoin="miter"/><path d="M218.2,844.7L225.9,866.0M234.8,844.7L222.2,875.9" stroke="#a81212" stroke-width="3.2" fill="none" stroke-linecap="butt"/><path d="M421.2,843.1L437.3,865.0M437.3,843.1L421.2,865.0" stroke="#3a2eb8" stroke-width="3.2" fill="none"/>
<rect x="619" y="8" width="273" height="272" rx="7" ry="7" fill="#fff" stroke="#adb3ba" stroke-width="1.7"/>
<path d="M642.20,9.00V279.00 M620.00,257.20H891.00 M679.80,9.00V279.00 M620.00,219.60H891.00 M717.40,9.00V279.00 M620.00,182.00H891.00 M792.60,9.00V279.00 M620.00,106.80H891.00 M830.20,9.00V279.00 M620.00,69.20H891.00 M867.80,9.00V279.00 M620.00,31.60H891.00" stroke="#e0e0e0" stroke-width="1.2" fill="none"/>
<path d="M627.16,144.40V146.90 M752.50,272.24H755.00 M634.68,144.40V146.90 M752.50,264.72H755.00 M642.20,144.40V146.90 M752.50,257.20H755.00 M649.72,144.40V146.90 M752.50,249.68H755.00 M657.24,144.40V146.90 M752.50,242.16H755.00 M664.76,144.40V146.90 M752.50,234.64H755.00 M672.28,144.40V146.90 M752.50,227.12H755.00 M679.80,144.40V146.90 M752.50,219.60H755.00 M687.32,144.40V146.90 M752.50,212.08H755.00 M694.84,144.40V146.90 M752.50,204.56H755.00 M702.36,144.40V146.90 M752.50,197.04H755.00 M709.88,144.40V146.90 M752.50,189.52H755.00 M717.40,144.40V146.90 M752.50,182.00H755.00 M724.92,144.40V146.90 M752.50,174.48H755.00 M732.44,144.40V146.90 M752.50,166.96H755.00 M739.96,144.40V146.90 M752.50,159.44H755.00 M747.48,144.40V146.90 M752.50,151.92H755.00 M755.00,144.40V146.90 M752.50,144.40H755.00 M762.52,144.40V146.90 M752.50,136.88H755.00 M770.04,144.40V146.90 M752.50,129.36H755.00 M777.56,144.40V146.90 M752.50,121.84H755.00 M785.08,144.40V146.90 M752.50,114.32H755.00 M792.60,144.40V146.90 M752.50,106.80H755.00 M800.12,144.40V146.90 M752.50,99.28H755.00 M807.64,144.40V146.90 M752.50,91.76H755.00 M815.16,144.40V146.90 M752.50,84.24H755.00 M822.68,144.40V146.90 M752.50,76.72H755.00 M830.20,144.40V146.90 M752.50,69.20H755.00 M837.72,144.40V146.90 M752.50,61.68H755.00 M845.24,144.40V146.90 M752.50,54.16H755.00 M852.76,144.40V146.90 M752.50,46.64H755.00 M860.28,144.40V146.90 M752.50,39.12H755.00 M867.80,144.40V146.90 M752.50,31.60H755.00 M875.32,144.40V146.90 M752.50,24.08H755.00" stroke="#bdbdbd" stroke-width="1" fill="none"/>
<path d="M623,144.40H880 M755.00,276V20" stroke="#8c8c8c" stroke-width="1.4" fill="none"/>
<path d="M886,144.40 l-9,-3.5 v7z M755.00,13 l-3.5,9 h7z" fill="#777"/>
<text transform="translate(642.20,156.60)" x="0" y="0" font-size="12" fill="#3a3a3a" font-weight="normal" text-anchor="middle" stroke="#3a3a3a" stroke-width="0.3">−60</text>
<text transform="translate(750.50,261.00)" x="0" y="0" font-size="12" fill="#3a3a3a" font-weight="normal" text-anchor="end" stroke="#3a3a3a" stroke-width="0.3">−60</text>
<text transform="translate(679.80,156.60)" x="0" y="0" font-size="12" fill="#3a3a3a" font-weight="normal" text-anchor="middle" stroke="#3a3a3a" stroke-width="0.3">−40</text>
<text transform="translate(750.50,223.40)" x="0" y="0" font-size="12" fill="#3a3a3a" font-weight="normal" text-anchor="end" stroke="#3a3a3a" stroke-width="0.3">−40</text>
<text transform="translate(717.40,156.60)" x="0" y="0" font-size="12" fill="#3a3a3a" font-weight="normal" text-anchor="middle" stroke="#3a3a3a" stroke-width="0.3">−20</text>
<text transform="translate(750.50,185.80)" x="0" y="0" font-size="12" fill="#3a3a3a" font-weight="normal" text-anchor="end" stroke="#3a3a3a" stroke-width="0.3">−20</text>
<text transform="translate(792.60,156.60)" x="0" y="0" font-size="12" fill="#3a3a3a" font-weight="normal" text-anchor="middle" stroke="#3a3a3a" stroke-width="0.3">20</text>
<text transform="translate(750.50,110.60)" x="0" y="0" font-size="12" fill="#3a3a3a" font-weight="normal" text-anchor="end" stroke="#3a3a3a" stroke-width="0.3">20</text>
<text transform="translate(830.20,156.60)" x="0" y="0" font-size="12" fill="#3a3a3a" font-weight="normal" text-anchor="middle" stroke="#3a3a3a" stroke-width="0.3">40</text>
<text transform="translate(750.50,73.00)" x="0" y="0" font-size="12" fill="#3a3a3a" font-weight="normal" text-anchor="end" stroke="#3a3a3a" stroke-width="0.3">40</text>
<text transform="translate(867.80,156.60)" x="0" y="0" font-size="12" fill="#3a3a3a" font-weight="normal" text-anchor="middle" stroke="#3a3a3a" stroke-width="0.3">60</text>
<text transform="translate(750.50,35.40)" x="0" y="0" font-size="12" fill="#3a3a3a" font-weight="normal" text-anchor="end" stroke="#3a3a3a" stroke-width="0.3">60</text>
<path d="M744.0,267.8H750.4 M783.4,267.8H788.6M786.0,265.2V270.4 M802.6,267.8H815.2M805.4,265.6L802.6,267.8L805.4,270.0 M866.2,267.8H878.8M876.0,265.6L878.8,267.8L876.0,270.0 M831.1,262.8V273.0M829.1,270.2L831.1,273.0L833.1,270.2 M849.5,272.8V262.6M847.5,265.4L849.5,262.6L851.5,265.4" stroke="#9a9a9a" stroke-width="1.2" fill="none"/>
<circle cx="766.0" cy="267.8" r="2.7" stroke="#9a9a9a" stroke-width="1.2" fill="none"/>
<text transform="translate(678.20,290.60)" x="0" y="0" font-size="11" fill="#9a9a9a" font-weight="normal" text-anchor="start" textLength="155.2" lengthAdjust="spacingAndGlyphs" >Young's modulus in (xy) plane</text>
<path d="M867.80,144.40 L867.70,143.42 L867.38,142.44 L866.87,141.47 L866.15,140.52 L865.25,139.59 L864.16,138.68 L862.91,137.80 L861.50,136.95 L859.95,136.14 L858.27,135.36 L856.48,134.63 L854.60,133.93 L852.64,133.28 L850.61,132.66 L848.53,132.09 L846.41,131.55 L844.26,131.06 L842.11,130.60 L839.94,130.19 L837.79,129.80 L835.65,129.45 L833.53,129.14 L831.44,128.85 L829.38,128.59 L827.36,128.36 L825.39,128.15 L823.46,127.97 L821.57,127.80 L819.74,127.66 L817.96,127.53 L816.23,127.42 L814.56,127.32 L812.94,127.24 L811.37,127.17 L809.85,127.11 L808.39,127.05 L806.97,127.01 L805.61,126.98 L804.29,126.95 L803.02,126.92 L801.80,126.90 L800.62,126.89 L799.49,126.88 L798.40,126.87 L797.35,126.86 L796.33,126.85 L795.36,126.85 L794.43,126.85 L793.53,126.84 L792.66,126.84 L791.82,126.84 L791.02,126.83 L790.25,126.82 L789.51,126.82 L788.79,126.81 L788.11,126.80 L787.45,126.78 L786.81,126.77 L786.20,126.75 L785.61,126.73 L785.04,126.70 L784.50,126.68 L783.97,126.65 L783.47,126.61 L782.98,126.57 L782.51,126.53 L782.06,126.49 L781.63,126.44 L781.21,126.39 L780.81,126.33 L780.42,126.27 L780.05,126.20 L779.69,126.13 L779.35,126.05 L779.02,125.97 L778.70,125.89 L778.39,125.79 L778.10,125.70 L777.81,125.60 L777.54,125.49 L777.28,125.37 L777.02,125.25 L776.78,125.13 L776.55,125.00 L776.33,124.86 L776.11,124.71 L775.91,124.56 L775.71,124.40 L775.52,124.24 L775.34,124.06 L775.16,123.88 L775.00,123.69 L774.84,123.49 L774.69,123.29 L774.54,123.07 L774.40,122.85 L774.27,122.62 L774.15,122.38 L774.03,122.12 L773.91,121.86 L773.80,121.59 L773.70,121.30 L773.61,121.01 L773.51,120.70 L773.43,120.38 L773.35,120.05 L773.27,119.71 L773.20,119.35 L773.13,118.98 L773.07,118.59 L773.01,118.19 L772.96,117.77 L772.91,117.34 L772.87,116.89 L772.83,116.42 L772.79,115.93 L772.75,115.43 L772.72,114.90 L772.70,114.36 L772.67,113.79 L772.65,113.20 L772.63,112.59 L772.62,111.95 L772.60,111.29 L772.59,110.61 L772.58,109.89 L772.58,109.15 L772.57,108.38 L772.56,107.58 L772.56,106.74 L772.56,105.87 L772.55,104.97 L772.55,104.04 L772.55,103.07 L772.54,102.05 L772.53,101.00 L772.52,99.91 L772.51,98.78 L772.50,97.60 L772.48,96.38 L772.45,95.11 L772.42,93.79 L772.39,92.43 L772.35,91.01 L772.29,89.55 L772.23,88.03 L772.16,86.46 L772.08,84.84 L771.98,83.17 L771.87,81.44 L771.74,79.66 L771.60,77.83 L771.43,75.94 L771.25,74.01 L771.04,72.04 L770.81,70.02 L770.55,67.96 L770.26,65.87 L769.95,63.75 L769.60,61.61 L769.21,59.46 L768.80,57.29 L768.34,55.14 L767.85,52.99 L767.31,50.87 L766.74,48.79 L766.12,46.76 L765.47,44.80 L764.77,42.92 L764.04,41.13 L763.26,39.45 L762.45,37.90 L761.60,36.49 L760.72,35.24 L759.81,34.15 L758.88,33.25 L757.93,32.53 L756.96,32.02 L755.98,31.70 L755.00,31.60 L754.02,31.70 L753.04,32.02 L752.07,32.53 L751.12,33.25 L750.19,34.15 L749.28,35.24 L748.40,36.49 L747.55,37.90 L746.74,39.45 L745.96,41.13 L745.23,42.92 L744.53,44.80 L743.88,46.76 L743.26,48.79 L742.69,50.87 L742.15,52.99 L741.66,55.14 L741.20,57.29 L740.79,59.46 L740.40,61.61 L740.05,63.75 L739.74,65.87 L739.45,67.96 L739.19,70.02 L738.96,72.04 L738.75,74.01 L738.57,75.94 L738.40,77.83 L738.26,79.66 L738.13,81.44 L738.02,83.17 L737.92,84.84 L737.84,86.46 L737.77,88.03 L737.71,89.55 L737.65,91.01 L737.61,92.43 L737.58,93.79 L737.55,95.11 L737.52,96.38 L737.50,97.60 L737.49,98.78 L737.48,99.91 L737.47,101.00 L737.46,102.05 L737.45,103.07 L737.45,104.04 L737.45,104.97 L737.44,105.87 L737.44,106.74 L737.44,107.58 L737.43,108.38 L737.42,109.15 L737.42,109.89 L737.41,110.61 L737.40,111.29 L737.38,111.95 L737.37,112.59 L737.35,113.20 L737.33,113.79 L737.30,114.36 L737.28,114.90 L737.25,115.43 L737.21,115.93 L737.17,116.42 L737.13,116.89 L737.09,117.34 L737.04,117.77 L736.99,118.19 L736.93,118.59 L736.87,118.98 L736.80,119.35 L736.73,119.71 L736.65,120.05 L736.57,120.38 L736.49,120.70 L736.39,121.01 L736.30,121.30 L736.20,121.59 L736.09,121.86 L735.97,122.12 L735.85,122.38 L735.73,122.62 L735.60,122.85 L735.46,123.07 L735.31,123.29 L735.16,123.49 L735.00,123.69 L734.84,123.88 L734.66,124.06 L734.48,124.24 L734.29,124.40 L734.09,124.56 L733.89,124.71 L733.67,124.86 L733.45,125.00 L733.22,125.13 L732.98,125.25 L732.72,125.37 L732.46,125.49 L732.19,125.60 L731.90,125.70 L731.61,125.79 L731.30,125.89 L730.98,125.97 L730.65,126.05 L730.31,126.13 L729.95,126.20 L729.58,126.27 L729.19,126.33 L728.79,126.39 L728.37,126.44 L727.94,126.49 L727.49,126.53 L727.02,126.57 L726.53,126.61 L726.03,126.65 L725.50,126.68 L724.96,126.70 L724.39,126.73 L723.80,126.75 L723.19,126.77 L722.55,126.78 L721.89,126.80 L721.21,126.81 L720.49,126.82 L719.75,126.82 L718.98,126.83 L718.18,126.84 L717.34,126.84 L716.47,126.84 L715.57,126.85 L714.64,126.85 L713.67,126.85 L712.65,126.86 L711.60,126.87 L710.51,126.88 L709.38,126.89 L708.20,126.90 L706.98,126.92 L705.71,126.95 L704.39,126.98 L703.03,127.01 L701.61,127.05 L700.15,127.11 L698.63,127.17 L697.06,127.24 L695.44,127.32 L693.77,127.42 L692.04,127.53 L690.26,127.66 L688.43,127.80 L686.54,127.97 L684.61,128.15 L682.64,128.36 L680.62,128.59 L678.56,128.85 L676.47,129.14 L674.35,129.45 L672.21,129.80 L670.06,130.19 L667.89,130.60 L665.74,131.06 L663.59,131.55 L661.47,132.09 L659.39,132.66 L657.36,133.28 L655.40,133.93 L653.52,134.63 L651.73,135.36 L650.05,136.14 L648.50,136.95 L647.09,137.80 L645.84,138.68 L644.75,139.59 L643.85,140.52 L643.13,141.47 L642.62,142.44 L642.30,143.42 L642.20,144.40 L642.30,145.38 L642.62,146.36 L643.13,147.33 L643.85,148.28 L644.75,149.21 L645.84,150.12 L647.09,151.00 L648.50,151.85 L650.05,152.66 L651.73,153.44 L653.52,154.17 L655.40,154.87 L657.36,155.52 L659.39,156.14 L661.47,156.71 L663.59,157.25 L665.74,157.74 L667.89,158.20 L670.06,158.61 L672.21,159.00 L674.35,159.35 L676.47,159.66 L678.56,159.95 L680.62,160.21 L682.64,160.44 L684.61,160.65 L686.54,160.83 L688.43,161.00 L690.26,161.14 L692.04,161.27 L693.77,161.38 L695.44,161.48 L697.06,161.56 L698.63,161.63 L700.15,161.69 L701.61,161.75 L703.03,161.79 L704.39,161.82 L705.71,161.85 L706.98,161.88 L708.20,161.90 L709.38,161.91 L710.51,161.92 L711.60,161.93 L712.65,161.94 L713.67,161.95 L714.64,161.95 L715.57,161.95 L716.47,161.96 L717.34,161.96 L718.18,161.96 L718.98,161.97 L719.75,161.98 L720.49,161.98 L721.21,161.99 L721.89,162.00 L722.55,162.02 L723.19,162.03 L723.80,162.05 L724.39,162.07 L724.96,162.10 L725.50,162.12 L726.03,162.15 L726.53,162.19 L727.02,162.23 L727.49,162.27 L727.94,162.31 L728.37,162.36 L728.79,162.41 L729.19,162.47 L729.58,162.53 L729.95,162.60 L730.31,162.67 L730.65,162.75 L730.98,162.83 L731.30,162.91 L731.61,163.01 L731.90,163.10 L732.19,163.20 L732.46,163.31 L732.72,163.43 L732.98,163.55 L733.22,163.67 L733.45,163.80 L733.67,163.94 L733.89,164.09 L734.09,164.24 L734.29,164.40 L734.48,164.56 L734.66,164.74 L734.84,164.92 L735.00,165.11 L735.16,165.31 L735.31,165.51 L735.46,165.73 L735.60,165.95 L735.73,166.18 L735.85,166.42 L735.97,166.68 L736.09,166.94 L736.20,167.21 L736.30,167.50 L736.39,167.79 L736.49,168.10 L736.57,168.42 L736.65,168.75 L736.73,169.09 L736.80,169.45 L736.87,169.82 L736.93,170.21 L736.99,170.61 L737.04,171.03 L737.09,171.46 L737.13,171.91 L737.17,172.38 L737.21,172.87 L737.25,173.37 L737.28,173.90 L737.30,174.44 L737.33,175.01 L737.35,175.60 L737.37,176.21 L737.38,176.85 L737.40,177.51 L737.41,178.19 L737.42,178.91 L737.42,179.65 L737.43,180.42 L737.44,181.22 L737.44,182.06 L737.44,182.93 L737.45,183.83 L737.45,184.76 L737.45,185.73 L737.46,186.75 L737.47,187.80 L737.48,188.89 L737.49,190.02 L737.50,191.20 L737.52,192.42 L737.55,193.69 L737.58,195.01 L737.61,196.37 L737.65,197.79 L737.71,199.25 L737.77,200.77 L737.84,202.34 L737.92,203.96 L738.02,205.63 L738.13,207.36 L738.26,209.14 L738.40,210.97 L738.57,212.86 L738.75,214.79 L738.96,216.76 L739.19,218.78 L739.45,220.84 L739.74,222.93 L740.05,225.05 L740.40,227.19 L740.79,229.34 L741.20,231.51 L741.66,233.66 L742.15,235.81 L742.69,237.93 L743.26,240.01 L743.88,242.04 L744.53,244.00 L745.23,245.88 L745.96,247.67 L746.74,249.35 L747.55,250.90 L748.40,252.31 L749.28,253.56 L750.19,254.65 L751.12,255.55 L752.07,256.27 L753.04,256.78 L754.02,257.10 L755.00,257.20 L755.98,257.10 L756.96,256.78 L757.93,256.27 L758.88,255.55 L759.81,254.65 L760.72,253.56 L761.60,252.31 L762.45,250.90 L763.26,249.35 L764.04,247.67 L764.77,245.88 L765.47,244.00 L766.12,242.04 L766.74,240.01 L767.31,237.93 L767.85,235.81 L768.34,233.66 L768.80,231.51 L769.21,229.34 L769.60,227.19 L769.95,225.05 L770.26,222.93 L770.55,220.84 L770.81,218.78 L771.04,216.76 L771.25,214.79 L771.43,212.86 L771.60,210.97 L771.74,209.14 L771.87,207.36 L771.98,205.63 L772.08,203.96 L772.16,202.34 L772.23,200.77 L772.29,199.25 L772.35,197.79 L772.39,196.37 L772.42,195.01 L772.45,193.69 L772.48,192.42 L772.50,191.20 L772.51,190.02 L772.52,188.89 L772.53,187.80 L772.54,186.75 L772.55,185.73 L772.55,184.76 L772.55,183.83 L772.56,182.93 L772.56,182.06 L772.56,181.22 L772.57,180.42 L772.58,179.65 L772.58,178.91 L772.59,178.19 L772.60,177.51 L772.62,176.85 L772.63,176.21 L772.65,175.60 L772.67,175.01 L772.70,174.44 L772.72,173.90 L772.75,173.37 L772.79,172.87 L772.83,172.38 L772.87,171.91 L772.91,171.46 L772.96,171.03 L773.01,170.61 L773.07,170.21 L773.13,169.82 L773.20,169.45 L773.27,169.09 L773.35,168.75 L773.43,168.42 L773.51,168.10 L773.61,167.79 L773.70,167.50 L773.80,167.21 L773.91,166.94 L774.03,166.68 L774.15,166.42 L774.27,166.18 L774.40,165.95 L774.54,165.73 L774.69,165.51 L774.84,165.31 L775.00,165.11 L775.16,164.92 L775.34,164.74 L775.52,164.56 L775.71,164.40 L775.91,164.24 L776.11,164.09 L776.33,163.94 L776.55,163.80 L776.78,163.67 L777.02,163.55 L777.28,163.43 L777.54,163.31 L777.81,163.20 L778.10,163.10 L778.39,163.01 L778.70,162.91 L779.02,162.83 L779.35,162.75 L779.69,162.67 L780.05,162.60 L780.42,162.53 L780.81,162.47 L781.21,162.41 L781.63,162.36 L782.06,162.31 L782.51,162.27 L782.98,162.23 L783.47,162.19 L783.97,162.15 L784.50,162.12 L785.04,162.10 L785.61,162.07 L786.20,162.05 L786.81,162.03 L787.45,162.02 L788.11,162.00 L788.79,161.99 L789.51,161.98 L790.25,161.98 L791.02,161.97 L791.82,161.96 L792.66,161.96 L793.53,161.96 L794.43,161.95 L795.36,161.95 L796.33,161.95 L797.35,161.94 L798.40,161.93 L799.49,161.92 L800.62,161.91 L801.80,161.90 L803.02,161.88 L804.29,161.85 L805.61,161.82 L806.97,161.79 L808.39,161.75 L809.85,161.69 L811.37,161.63 L812.94,161.56 L814.56,161.48 L816.23,161.38 L817.96,161.27 L819.74,161.14 L821.57,161.00 L823.46,160.83 L825.39,160.65 L827.36,160.44 L829.38,160.21 L831.44,159.95 L833.53,159.66 L835.65,159.35 L837.79,159.00 L839.94,158.61 L842.11,158.20 L844.26,157.74 L846.41,157.25 L848.53,156.71 L850.61,156.14 L852.64,155.52 L854.60,154.87 L856.48,154.17 L858.27,153.44 L859.95,152.66 L861.50,151.85 L862.91,151.00 L864.16,150.12 L865.25,149.21 L866.15,148.28 L866.87,147.33 L867.38,146.36 L867.70,145.38Z" fill="none" stroke="#d2f0d2" stroke-width="5.4" stroke-linejoin="round" stroke-opacity="0.8"/>
<path d="M867.80,144.40 L867.70,143.42 L867.38,142.44 L866.87,141.47 L866.15,140.52 L865.25,139.59 L864.16,138.68 L862.91,137.80 L861.50,136.95 L859.95,136.14 L858.27,135.36 L856.48,134.63 L854.60,133.93 L852.64,133.28 L850.61,132.66 L848.53,132.09 L846.41,131.55 L844.26,131.06 L842.11,130.60 L839.94,130.19 L837.79,129.80 L835.65,129.45 L833.53,129.14 L831.44,128.85 L829.38,128.59 L827.36,128.36 L825.39,128.15 L823.46,127.97 L821.57,127.80 L819.74,127.66 L817.96,127.53 L816.23,127.42 L814.56,127.32 L812.94,127.24 L811.37,127.17 L809.85,127.11 L808.39,127.05 L806.97,127.01 L805.61,126.98 L804.29,126.95 L803.02,126.92 L801.80,126.90 L800.62,126.89 L799.49,126.88 L798.40,126.87 L797.35,126.86 L796.33,126.85 L795.36,126.85 L794.43,126.85 L793.53,126.84 L792.66,126.84 L791.82,126.84 L791.02,126.83 L790.25,126.82 L789.51,126.82 L788.79,126.81 L788.11,126.80 L787.45,126.78 L786.81,126.77 L786.20,126.75 L785.61,126.73 L785.04,126.70 L784.50,126.68 L783.97,126.65 L783.47,126.61 L782.98,126.57 L782.51,126.53 L782.06,126.49 L781.63,126.44 L781.21,126.39 L780.81,126.33 L780.42,126.27 L780.05,126.20 L779.69,126.13 L779.35,126.05 L779.02,125.97 L778.70,125.89 L778.39,125.79 L778.10,125.70 L777.81,125.60 L777.54,125.49 L777.28,125.37 L777.02,125.25 L776.78,125.13 L776.55,125.00 L776.33,124.86 L776.11,124.71 L775.91,124.56 L775.71,124.40 L775.52,124.24 L775.34,124.06 L775.16,123.88 L775.00,123.69 L774.84,123.49 L774.69,123.29 L774.54,123.07 L774.40,122.85 L774.27,122.62 L774.15,122.38 L774.03,122.12 L773.91,121.86 L773.80,121.59 L773.70,121.30 L773.61,121.01 L773.51,120.70 L773.43,120.38 L773.35,120.05 L773.27,119.71 L773.20,119.35 L773.13,118.98 L773.07,118.59 L773.01,118.19 L772.96,117.77 L772.91,117.34 L772.87,116.89 L772.83,116.42 L772.79,115.93 L772.75,115.43 L772.72,114.90 L772.70,114.36 L772.67,113.79 L772.65,113.20 L772.63,112.59 L772.62,111.95 L772.60,111.29 L772.59,110.61 L772.58,109.89 L772.58,109.15 L772.57,108.38 L772.56,107.58 L772.56,106.74 L772.56,105.87 L772.55,104.97 L772.55,104.04 L772.55,103.07 L772.54,102.05 L772.53,101.00 L772.52,99.91 L772.51,98.78 L772.50,97.60 L772.48,96.38 L772.45,95.11 L772.42,93.79 L772.39,92.43 L772.35,91.01 L772.29,89.55 L772.23,88.03 L772.16,86.46 L772.08,84.84 L771.98,83.17 L771.87,81.44 L771.74,79.66 L771.60,77.83 L771.43,75.94 L771.25,74.01 L771.04,72.04 L770.81,70.02 L770.55,67.96 L770.26,65.87 L769.95,63.75 L769.60,61.61 L769.21,59.46 L768.80,57.29 L768.34,55.14 L767.85,52.99 L767.31,50.87 L766.74,48.79 L766.12,46.76 L765.47,44.80 L764.77,42.92 L764.04,41.13 L763.26,39.45 L762.45,37.90 L761.60,36.49 L760.72,35.24 L759.81,34.15 L758.88,33.25 L757.93,32.53 L756.96,32.02 L755.98,31.70 L755.00,31.60 L754.02,31.70 L753.04,32.02 L752.07,32.53 L751.12,33.25 L750.19,34.15 L749.28,35.24 L748.40,36.49 L747.55,37.90 L746.74,39.45 L745.96,41.13 L745.23,42.92 L744.53,44.80 L743.88,46.76 L743.26,48.79 L742.69,50.87 L742.15,52.99 L741.66,55.14 L741.20,57.29 L740.79,59.46 L740.40,61.61 L740.05,63.75 L739.74,65.87 L739.45,67.96 L739.19,70.02 L738.96,72.04 L738.75,74.01 L738.57,75.94 L738.40,77.83 L738.26,79.66 L738.13,81.44 L738.02,83.17 L737.92,84.84 L737.84,86.46 L737.77,88.03 L737.71,89.55 L737.65,91.01 L737.61,92.43 L737.58,93.79 L737.55,95.11 L737.52,96.38 L737.50,97.60 L737.49,98.78 L737.48,99.91 L737.47,101.00 L737.46,102.05 L737.45,103.07 L737.45,104.04 L737.45,104.97 L737.44,105.87 L737.44,106.74 L737.44,107.58 L737.43,108.38 L737.42,109.15 L737.42,109.89 L737.41,110.61 L737.40,111.29 L737.38,111.95 L737.37,112.59 L737.35,113.20 L737.33,113.79 L737.30,114.36 L737.28,114.90 L737.25,115.43 L737.21,115.93 L737.17,116.42 L737.13,116.89 L737.09,117.34 L737.04,117.77 L736.99,118.19 L736.93,118.59 L736.87,118.98 L736.80,119.35 L736.73,119.71 L736.65,120.05 L736.57,120.38 L736.49,120.70 L736.39,121.01 L736.30,121.30 L736.20,121.59 L736.09,121.86 L735.97,122.12 L735.85,122.38 L735.73,122.62 L735.60,122.85 L735.46,123.07 L735.31,123.29 L735.16,123.49 L735.00,123.69 L734.84,123.88 L734.66,124.06 L734.48,124.24 L734.29,124.40 L734.09,124.56 L733.89,124.71 L733.67,124.86 L733.45,125.00 L733.22,125.13 L732.98,125.25 L732.72,125.37 L732.46,125.49 L732.19,125.60 L731.90,125.70 L731.61,125.79 L731.30,125.89 L730.98,125.97 L730.65,126.05 L730.31,126.13 L729.95,126.20 L729.58,126.27 L729.19,126.33 L728.79,126.39 L728.37,126.44 L727.94,126.49 L727.49,126.53 L727.02,126.57 L726.53,126.61 L726.03,126.65 L725.50,126.68 L724.96,126.70 L724.39,126.73 L723.80,126.75 L723.19,126.77 L722.55,126.78 L721.89,126.80 L721.21,126.81 L720.49,126.82 L719.75,126.82 L718.98,126.83 L718.18,126.84 L717.34,126.84 L716.47,126.84 L715.57,126.85 L714.64,126.85 L713.67,126.85 L712.65,126.86 L711.60,126.87 L710.51,126.88 L709.38,126.89 L708.20,126.90 L706.98,126.92 L705.71,126.95 L704.39,126.98 L703.03,127.01 L701.61,127.05 L700.15,127.11 L698.63,127.17 L697.06,127.24 L695.44,127.32 L693.77,127.42 L692.04,127.53 L690.26,127.66 L688.43,127.80 L686.54,127.97 L684.61,128.15 L682.64,128.36 L680.62,128.59 L678.56,128.85 L676.47,129.14 L674.35,129.45 L672.21,129.80 L670.06,130.19 L667.89,130.60 L665.74,131.06 L663.59,131.55 L661.47,132.09 L659.39,132.66 L657.36,133.28 L655.40,133.93 L653.52,134.63 L651.73,135.36 L650.05,136.14 L648.50,136.95 L647.09,137.80 L645.84,138.68 L644.75,139.59 L643.85,140.52 L643.13,141.47 L642.62,142.44 L642.30,143.42 L642.20,144.40 L642.30,145.38 L642.62,146.36 L643.13,147.33 L643.85,148.28 L644.75,149.21 L645.84,150.12 L647.09,151.00 L648.50,151.85 L650.05,152.66 L651.73,153.44 L653.52,154.17 L655.40,154.87 L657.36,155.52 L659.39,156.14 L661.47,156.71 L663.59,157.25 L665.74,157.74 L667.89,158.20 L670.06,158.61 L672.21,159.00 L674.35,159.35 L676.47,159.66 L678.56,159.95 L680.62,160.21 L682.64,160.44 L684.61,160.65 L686.54,160.83 L688.43,161.00 L690.26,161.14 L692.04,161.27 L693.77,161.38 L695.44,161.48 L697.06,161.56 L698.63,161.63 L700.15,161.69 L701.61,161.75 L703.03,161.79 L704.39,161.82 L705.71,161.85 L706.98,161.88 L708.20,161.90 L709.38,161.91 L710.51,161.92 L711.60,161.93 L712.65,161.94 L713.67,161.95 L714.64,161.95 L715.57,161.95 L716.47,161.96 L717.34,161.96 L718.18,161.96 L718.98,161.97 L719.75,161.98 L720.49,161.98 L721.21,161.99 L721.89,162.00 L722.55,162.02 L723.19,162.03 L723.80,162.05 L724.39,162.07 L724.96,162.10 L725.50,162.12 L726.03,162.15 L726.53,162.19 L727.02,162.23 L727.49,162.27 L727.94,162.31 L728.37,162.36 L728.79,162.41 L729.19,162.47 L729.58,162.53 L729.95,162.60 L730.31,162.67 L730.65,162.75 L730.98,162.83 L731.30,162.91 L731.61,163.01 L731.90,163.10 L732.19,163.20 L732.46,163.31 L732.72,163.43 L732.98,163.55 L733.22,163.67 L733.45,163.80 L733.67,163.94 L733.89,164.09 L734.09,164.24 L734.29,164.40 L734.48,164.56 L734.66,164.74 L734.84,164.92 L735.00,165.11 L735.16,165.31 L735.31,165.51 L735.46,165.73 L735.60,165.95 L735.73,166.18 L735.85,166.42 L735.97,166.68 L736.09,166.94 L736.20,167.21 L736.30,167.50 L736.39,167.79 L736.49,168.10 L736.57,168.42 L736.65,168.75 L736.73,169.09 L736.80,169.45 L736.87,169.82 L736.93,170.21 L736.99,170.61 L737.04,171.03 L737.09,171.46 L737.13,171.91 L737.17,172.38 L737.21,172.87 L737.25,173.37 L737.28,173.90 L737.30,174.44 L737.33,175.01 L737.35,175.60 L737.37,176.21 L737.38,176.85 L737.40,177.51 L737.41,178.19 L737.42,178.91 L737.42,179.65 L737.43,180.42 L737.44,181.22 L737.44,182.06 L737.44,182.93 L737.45,183.83 L737.45,184.76 L737.45,185.73 L737.46,186.75 L737.47,187.80 L737.48,188.89 L737.49,190.02 L737.50,191.20 L737.52,192.42 L737.55,193.69 L737.58,195.01 L737.61,196.37 L737.65,197.79 L737.71,199.25 L737.77,200.77 L737.84,202.34 L737.92,203.96 L738.02,205.63 L738.13,207.36 L738.26,209.14 L738.40,210.97 L738.57,212.86 L738.75,214.79 L738.96,216.76 L739.19,218.78 L739.45,220.84 L739.74,222.93 L740.05,225.05 L740.40,227.19 L740.79,229.34 L741.20,231.51 L741.66,233.66 L742.15,235.81 L742.69,237.93 L743.26,240.01 L743.88,242.04 L744.53,244.00 L745.23,245.88 L745.96,247.67 L746.74,249.35 L747.55,250.90 L748.40,252.31 L749.28,253.56 L750.19,254.65 L751.12,255.55 L752.07,256.27 L753.04,256.78 L754.02,257.10 L755.00,257.20 L755.98,257.10 L756.96,256.78 L757.93,256.27 L758.88,255.55 L759.81,254.65 L760.72,253.56 L761.60,252.31 L762.45,250.90 L763.26,249.35 L764.04,247.67 L764.77,245.88 L765.47,244.00 L766.12,242.04 L766.74,240.01 L767.31,237.93 L767.85,235.81 L768.34,233.66 L768.80,231.51 L769.21,229.34 L769.60,227.19 L769.95,225.05 L770.26,222.93 L770.55,220.84 L770.81,218.78 L771.04,216.76 L771.25,214.79 L771.43,212.86 L771.60,210.97 L771.74,209.14 L771.87,207.36 L771.98,205.63 L772.08,203.96 L772.16,202.34 L772.23,200.77 L772.29,199.25 L772.35,197.79 L772.39,196.37 L772.42,195.01 L772.45,193.69 L772.48,192.42 L772.50,191.20 L772.51,190.02 L772.52,188.89 L772.53,187.80 L772.54,186.75 L772.55,185.73 L772.55,184.76 L772.55,183.83 L772.56,182.93 L772.56,182.06 L772.56,181.22 L772.57,180.42 L772.58,179.65 L772.58,178.91 L772.59,178.19 L772.60,177.51 L772.62,176.85 L772.63,176.21 L772.65,175.60 L772.67,175.01 L772.70,174.44 L772.72,173.90 L772.75,173.37 L772.79,172.87 L772.83,172.38 L772.87,171.91 L772.91,171.46 L772.96,171.03 L773.01,170.61 L773.07,170.21 L773.13,169.82 L773.20,169.45 L773.27,169.09 L773.35,168.75 L773.43,168.42 L773.51,168.10 L773.61,167.79 L773.70,167.50 L773.80,167.21 L773.91,166.94 L774.03,166.68 L774.15,166.42 L774.27,166.18 L774.40,165.95 L774.54,165.73 L774.69,165.51 L774.84,165.31 L775.00,165.11 L775.16,164.92 L775.34,164.74 L775.52,164.56 L775.71,164.40 L775.91,164.24 L776.11,164.09 L776.33,163.94 L776.55,163.80 L776.78,163.67 L777.02,163.55 L777.28,163.43 L777.54,163.31 L777.81,163.20 L778.10,163.10 L778.39,163.01 L778.70,162.91 L779.02,162.83 L779.35,162.75 L779.69,162.67 L780.05,162.60 L780.42,162.53 L780.81,162.47 L781.21,162.41 L781.63,162.36 L782.06,162.31 L782.51,162.27 L782.98,162.23 L783.47,162.19 L783.97,162.15 L784.50,162.12 L785.04,162.10 L785.61,162.07 L786.20,162.05 L786.81,162.03 L787.45,162.02 L788.11,162.00 L788.79,161.99 L789.51,161.98 L790.25,161.98 L791.02,161.97 L791.82,161.96 L792.66,161.96 L793.53,161.96 L794.43,161.95 L795.36,161.95 L796.33,161.95 L797.35,161.94 L798.40,161.93 L799.49,161.92 L800.62,161.91 L801.80,161.90 L803.02,161.88 L804.29,161.85 L805.61,161.82 L806.97,161.79 L808.39,161.75 L809.85,161.69 L811.37,161.63 L812.94,161.56 L814.56,161.48 L816.23,161.38 L817.96,161.27 L819.74,161.14 L821.57,161.00 L823.46,160.83 L825.39,160.65 L827.36,160.44 L829.38,160.21 L831.44,159.95 L833.53,159.66 L835.65,159.35 L837.79,159.00 L839.94,158.61 L842.11,158.20 L844.26,157.74 L846.41,157.25 L848.53,156.71 L850.61,156.14 L852.64,155.52 L854.60,154.87 L856.48,154.17 L858.27,153.44 L859.95,152.66 L861.50,151.85 L862.91,151.00 L864.16,150.12 L865.25,149.21 L866.15,148.28 L866.87,147.33 L867.38,146.36 L867.70,145.38Z" fill="none" stroke="#3a7d45" stroke-width="2.2" stroke-linejoin="round"/>
<rect x="615" y="328" width="276" height="275" rx="7" ry="7" fill="#fff" stroke="#adb3ba" stroke-width="1.7"/>
<path d="M626.00,329.00V602.00 M616.00,592.00H890.00 M668.10,329.00V602.00 M616.00,549.90H890.00 M710.20,329.00V602.00 M616.00,507.80H890.00 M794.40,329.00V602.00 M616.00,423.60H890.00 M836.50,329.00V602.00 M616.00,381.50H890.00 M878.60,329.00V602.00 M616.00,339.40H890.00" stroke="#e0e0e0" stroke-width="1.2" fill="none"/>
<path d="M626.00,465.70V468.20 M749.80,592.00H752.30 M634.42,465.70V468.20 M749.80,583.58H752.30 M642.84,465.70V468.20 M749.80,575.16H752.30 M651.26,465.70V468.20 M749.80,566.74H752.30 M659.68,465.70V468.20 M749.80,558.32H752.30 M668.10,465.70V468.20 M749.80,549.90H752.30 M676.52,465.70V468.20 M749.80,541.48H752.30 M684.94,465.70V468.20 M749.80,533.06H752.30 M693.36,465.70V468.20 M749.80,524.64H752.30 M701.78,465.70V468.20 M749.80,516.22H752.30 M710.20,465.70V468.20 M749.80,507.80H752.30 M718.62,465.70V468.20 M749.80,499.38H752.30 M727.04,465.70V468.20 M749.80,490.96H752.30 M735.46,465.70V468.20 M749.80,482.54H752.30 M743.88,465.70V468.20 M749.80,474.12H752.30 M752.30,465.70V468.20 M749.80,465.70H752.30 M760.72,465.70V468.20 M749.80,457.28H752.30 M769.14,465.70V468.20 M749.80,448.86H752.30 M777.56,465.70V468.20 M749.80,440.44H752.30 M785.98,465.70V468.20 M749.80,432.02H752.30 M794.40,465.70V468.20 M749.80,423.60H752.30 M802.82,465.70V468.20 M749.80,415.18H752.30 M811.24,465.70V468.20 M749.80,406.76H752.30 M819.66,465.70V468.20 M749.80,398.34H752.30 M828.08,465.70V468.20 M749.80,389.92H752.30 M836.50,465.70V468.20 M749.80,381.50H752.30 M844.92,465.70V468.20 M749.80,373.08H752.30 M853.34,465.70V468.20 M749.80,364.66H752.30 M861.76,465.70V468.20 M749.80,356.24H752.30 M870.18,465.70V468.20 M749.80,347.82H752.30 M878.60,465.70V468.20 M749.80,339.40H752.30" stroke="#bdbdbd" stroke-width="1" fill="none"/>
<path d="M619,465.70H879 M752.30,599V340" stroke="#8c8c8c" stroke-width="1.4" fill="none"/>
<path d="M885,465.70 l-9,-3.5 v7z M752.30,333 l-3.5,9 h7z" fill="#777"/>
<text transform="translate(626.00,477.90)" x="0" y="0" font-size="12" fill="#3a3a3a" font-weight="normal" text-anchor="middle" stroke="#3a3a3a" stroke-width="0.3">−30</text>
<text transform="translate(747.80,595.80)" x="0" y="0" font-size="12" fill="#3a3a3a" font-weight="normal" text-anchor="end" stroke="#3a3a3a" stroke-width="0.3">−30</text>
<text transform="translate(668.10,477.90)" x="0" y="0" font-size="12" fill="#3a3a3a" font-weight="normal" text-anchor="middle" stroke="#3a3a3a" stroke-width="0.3">−20</text>
<text transform="translate(747.80,553.70)" x="0" y="0" font-size="12" fill="#3a3a3a" font-weight="normal" text-anchor="end" stroke="#3a3a3a" stroke-width="0.3">−20</text>
<text transform="translate(710.20,477.90)" x="0" y="0" font-size="12" fill="#3a3a3a" font-weight="normal" text-anchor="middle" stroke="#3a3a3a" stroke-width="0.3">−10</text>
<text transform="translate(747.80,511.60)" x="0" y="0" font-size="12" fill="#3a3a3a" font-weight="normal" text-anchor="end" stroke="#3a3a3a" stroke-width="0.3">−10</text>
<text transform="translate(794.40,477.90)" x="0" y="0" font-size="12" fill="#3a3a3a" font-weight="normal" text-anchor="middle" stroke="#3a3a3a" stroke-width="0.3">10</text>
<text transform="translate(747.80,427.40)" x="0" y="0" font-size="12" fill="#3a3a3a" font-weight="normal" text-anchor="end" stroke="#3a3a3a" stroke-width="0.3">10</text>
<text transform="translate(836.50,477.90)" x="0" y="0" font-size="12" fill="#3a3a3a" font-weight="normal" text-anchor="middle" stroke="#3a3a3a" stroke-width="0.3">20</text>
<text transform="translate(747.80,385.30)" x="0" y="0" font-size="12" fill="#3a3a3a" font-weight="normal" text-anchor="end" stroke="#3a3a3a" stroke-width="0.3">20</text>
<text transform="translate(878.60,477.90)" x="0" y="0" font-size="12" fill="#3a3a3a" font-weight="normal" text-anchor="middle" stroke="#3a3a3a" stroke-width="0.3">30</text>
<text transform="translate(747.80,343.20)" x="0" y="0" font-size="12" fill="#3a3a3a" font-weight="normal" text-anchor="end" stroke="#3a3a3a" stroke-width="0.3">30</text>
<path d="M781.3,590.8H786.5M783.9,588.2V593.4 M800.7,590.8H813.3M803.5,588.6L800.7,590.8L803.5,593.0 M865.0,590.8H877.6M874.8,588.6L877.6,590.8L874.8,593.0 M828.4,585.8V596.0M826.4,593.2L828.4,596.0L830.4,593.2 M848.7,595.8V585.6M846.7,588.4L848.7,585.6L850.7,588.4" stroke="#9a9a9a" stroke-width="1.2" fill="none"/>
<circle cx="763.7" cy="590.8" r="2.7" stroke="#9a9a9a" stroke-width="1.2" fill="none"/>
<text transform="translate(679.00,614.60)" x="0" y="0" font-size="11" fill="#9a9a9a" font-weight="normal" text-anchor="start" textLength="146.9" lengthAdjust="spacingAndGlyphs" >Shear modulus in (xy) plane</text>
<path d="M771.03,465.70 a18.73,18.73 0 1,0 -37.47,0 a18.73,18.73 0 1,0 37.47,0Z" fill="none" stroke="#d6f0d6" stroke-width="5.2" stroke-linejoin="round" stroke-opacity="0.8"/>
<path d="M771.03,465.70 a18.73,18.73 0 1,0 -37.47,0 a18.73,18.73 0 1,0 37.47,0Z" fill="none" stroke="#3f8a3f" stroke-width="2.0" stroke-linejoin="round"/>
<path d="M771.54,465.70 L771.78,464.42 L772.51,463.04 L773.79,461.42 L775.77,459.41 L778.65,456.76 L782.74,453.09 L788.53,447.83 L796.62,440.11 L807.50,428.82 L820.53,413.34 L831.71,396.06 L833.28,384.72 L821.94,386.29 L804.66,397.47 L789.18,410.50 L777.89,421.38 L770.17,429.47 L764.91,435.26 L761.24,439.35 L758.59,442.23 L756.58,444.21 L754.96,445.49 L753.58,446.22 L752.30,446.46 L751.02,446.22 L749.64,445.49 L748.02,444.21 L746.01,442.23 L743.36,439.35 L739.69,435.26 L734.43,429.47 L726.71,421.38 L715.42,410.50 L699.94,397.47 L682.66,386.29 L671.32,384.72 L672.89,396.06 L684.07,413.34 L697.10,428.82 L707.98,440.11 L716.07,447.83 L721.86,453.09 L725.95,456.76 L728.83,459.41 L730.81,461.42 L732.09,463.04 L732.82,464.42 L733.06,465.70 L732.82,466.98 L732.09,468.36 L730.81,469.98 L728.83,471.99 L725.95,474.64 L721.86,478.31 L716.07,483.57 L707.98,491.29 L697.10,502.58 L684.07,518.06 L672.89,535.34 L671.32,546.68 L682.66,545.11 L699.94,533.93 L715.42,520.90 L726.71,510.02 L734.43,501.93 L739.69,496.14 L743.36,492.05 L746.01,489.17 L748.02,487.19 L749.64,485.91 L751.02,485.18 L752.30,484.94 L753.58,485.18 L754.96,485.91 L756.58,487.19 L758.59,489.17 L761.24,492.05 L764.91,496.14 L770.17,501.93 L777.89,510.02 L789.18,520.90 L804.66,533.93 L821.94,545.11 L833.28,546.68 L831.71,535.34 L820.53,518.06 L807.50,502.58 L796.62,491.29 L788.53,483.57 L782.74,478.31 L778.65,474.64 L775.77,471.99 L773.79,469.98 L772.51,468.36 L771.78,466.98Z" fill="none" stroke="#dcdcfa" stroke-width="5.4" stroke-linejoin="round" stroke-opacity="0.8"/>
<path d="M771.54,465.70 L771.78,464.42 L772.51,463.04 L773.79,461.42 L775.77,459.41 L778.65,456.76 L782.74,453.09 L788.53,447.83 L796.62,440.11 L807.50,428.82 L820.53,413.34 L831.71,396.06 L833.28,384.72 L821.94,386.29 L804.66,397.47 L789.18,410.50 L777.89,421.38 L770.17,429.47 L764.91,435.26 L761.24,439.35 L758.59,442.23 L756.58,444.21 L754.96,445.49 L753.58,446.22 L752.30,446.46 L751.02,446.22 L749.64,445.49 L748.02,444.21 L746.01,442.23 L743.36,439.35 L739.69,435.26 L734.43,429.47 L726.71,421.38 L715.42,410.50 L699.94,397.47 L682.66,386.29 L671.32,384.72 L672.89,396.06 L684.07,413.34 L697.10,428.82 L707.98,440.11 L716.07,447.83 L721.86,453.09 L725.95,456.76 L728.83,459.41 L730.81,461.42 L732.09,463.04 L732.82,464.42 L733.06,465.70 L732.82,466.98 L732.09,468.36 L730.81,469.98 L728.83,471.99 L725.95,474.64 L721.86,478.31 L716.07,483.57 L707.98,491.29 L697.10,502.58 L684.07,518.06 L672.89,535.34 L671.32,546.68 L682.66,545.11 L699.94,533.93 L715.42,520.90 L726.71,510.02 L734.43,501.93 L739.69,496.14 L743.36,492.05 L746.01,489.17 L748.02,487.19 L749.64,485.91 L751.02,485.18 L752.30,484.94 L753.58,485.18 L754.96,485.91 L756.58,487.19 L758.59,489.17 L761.24,492.05 L764.91,496.14 L770.17,501.93 L777.89,510.02 L789.18,520.90 L804.66,533.93 L821.94,545.11 L833.28,546.68 L831.71,535.34 L820.53,518.06 L807.50,502.58 L796.62,491.29 L788.53,483.57 L782.74,478.31 L778.65,474.64 L775.77,471.99 L773.79,469.98 L772.51,468.36 L771.78,466.98Z" fill="none" stroke="#333388" stroke-width="2.2" stroke-linejoin="round"/>
<rect x="621" y="646.5" width="272" height="272.5" rx="7" ry="7" fill="#fff" stroke="#adb3ba" stroke-width="1.7"/>
<path d="M639.36,647.50V918.00 M622.00,900.14H892.00 M668.72,647.50V918.00 M622.00,870.78H892.00 M698.08,647.50V918.00 M622.00,841.42H892.00 M727.44,647.50V918.00 M622.00,812.06H892.00 M786.16,647.50V918.00 M622.00,753.34H892.00 M815.52,647.50V918.00 M622.00,723.98H892.00 M844.88,647.50V918.00 M622.00,694.62H892.00 M874.24,647.50V918.00 M622.00,665.26H892.00" stroke="#e0e0e0" stroke-width="1.2" fill="none"/>
<path d="M627.62,782.70V785.20 M754.30,911.88H756.80 M633.49,782.70V785.20 M754.30,906.01H756.80 M639.36,782.70V785.20 M754.30,900.14H756.80 M645.23,782.70V785.20 M754.30,894.27H756.80 M651.10,782.70V785.20 M754.30,888.40H756.80 M656.98,782.70V785.20 M754.30,882.52H756.80 M662.85,782.70V785.20 M754.30,876.65H756.80 M668.72,782.70V785.20 M754.30,870.78H756.80 M674.59,782.70V785.20 M754.30,864.91H756.80 M680.46,782.70V785.20 M754.30,859.04H756.80 M686.34,782.70V785.20 M754.30,853.16H756.80 M692.21,782.70V785.20 M754.30,847.29H756.80 M698.08,782.70V785.20 M754.30,841.42H756.80 M703.95,782.70V785.20 M754.30,835.55H756.80 M709.82,782.70V785.20 M754.30,829.68H756.80 M715.70,782.70V785.20 M754.30,823.80H756.80 M721.57,782.70V785.20 M754.30,817.93H756.80 M727.44,782.70V785.20 M754.30,812.06H756.80 M733.31,782.70V785.20 M754.30,806.19H756.80 M739.18,782.70V785.20 M754.30,800.32H756.80 M745.06,782.70V785.20 M754.30,794.44H756.80 M750.93,782.70V785.20 M754.30,788.57H756.80 M756.80,782.70V785.20 M754.30,782.70H756.80 M762.67,782.70V785.20 M754.30,776.83H756.80 M768.54,782.70V785.20 M754.30,770.96H756.80 M774.42,782.70V785.20 M754.30,765.08H756.80 M780.29,782.70V785.20 M754.30,759.21H756.80 M786.16,782.70V785.20 M754.30,753.34H756.80 M792.03,782.70V785.20 M754.30,747.47H756.80 M797.90,782.70V785.20 M754.30,741.60H756.80 M803.78,782.70V785.20 M754.30,735.72H756.80 M809.65,782.70V785.20 M754.30,729.85H756.80 M815.52,782.70V785.20 M754.30,723.98H756.80 M821.39,782.70V785.20 M754.30,718.11H756.80 M827.26,782.70V785.20 M754.30,712.24H756.80 M833.14,782.70V785.20 M754.30,706.36H756.80 M839.01,782.70V785.20 M754.30,700.49H756.80 M844.88,782.70V785.20 M754.30,694.62H756.80 M850.75,782.70V785.20 M754.30,688.75H756.80 M856.62,782.70V785.20 M754.30,682.88H756.80 M862.50,782.70V785.20 M754.30,677.00H756.80 M868.37,782.70V785.20 M754.30,671.13H756.80 M874.24,782.70V785.20 M754.30,665.26H756.80 M880.11,782.70V785.20 M754.30,659.39H756.80" stroke="#bdbdbd" stroke-width="1" fill="none"/>
<path d="M625,782.70H881 M756.80,915V658.5" stroke="#8c8c8c" stroke-width="1.4" fill="none"/>
<path d="M887,782.70 l-9,-3.5 v7z M756.80,651.5 l-3.5,9 h7z" fill="#777"/>
<text transform="translate(639.36,794.90)" x="0" y="0" font-size="12" fill="#3a3a3a" font-weight="normal" text-anchor="middle" stroke="#3a3a3a" stroke-width="0.3">−0.8</text>
<text transform="translate(752.30,903.94)" x="0" y="0" font-size="12" fill="#3a3a3a" font-weight="normal" text-anchor="end" stroke="#3a3a3a" stroke-width="0.3">−0.8</text>
<text transform="translate(668.72,794.90)" x="0" y="0" font-size="12" fill="#3a3a3a" font-weight="normal" text-anchor="middle" stroke="#3a3a3a" stroke-width="0.3">−0.6</text>
<text transform="translate(752.30,874.58)" x="0" y="0" font-size="12" fill="#3a3a3a" font-weight="normal" text-anchor="end" stroke="#3a3a3a" stroke-width="0.3">−0.6</text>
<text transform="translate(698.08,794.90)" x="0" y="0" font-size="12" fill="#3a3a3a" font-weight="normal" text-anchor="middle" stroke="#3a3a3a" stroke-width="0.3">−0.4</text>
<text transform="translate(752.30,845.22)" x="0" y="0" font-size="12" fill="#3a3a3a" font-weight="normal" text-anchor="end" stroke="#3a3a3a" stroke-width="0.3">−0.4</text>
<text transform="translate(727.44,794.90)" x="0" y="0" font-size="12" fill="#3a3a3a" font-weight="normal" text-anchor="middle" stroke="#3a3a3a" stroke-width="0.3">−0.2</text>
<text transform="translate(752.30,815.86)" x="0" y="0" font-size="12" fill="#3a3a3a" font-weight="normal" text-anchor="end" stroke="#3a3a3a" stroke-width="0.3">−0.2</text>
<text transform="translate(786.16,794.90)" x="0" y="0" font-size="12" fill="#3a3a3a" font-weight="normal" text-anchor="middle" stroke="#3a3a3a" stroke-width="0.3">0.2</text>
<text transform="translate(752.30,757.14)" x="0" y="0" font-size="12" fill="#3a3a3a" font-weight="normal" text-anchor="end" stroke="#3a3a3a" stroke-width="0.3">0.2</text>
<text transform="translate(815.52,794.90)" x="0" y="0" font-size="12" fill="#3a3a3a" font-weight="normal" text-anchor="middle" stroke="#3a3a3a" stroke-width="0.3">0.4</text>
<text transform="translate(752.30,727.78)" x="0" y="0" font-size="12" fill="#3a3a3a" font-weight="normal" text-anchor="end" stroke="#3a3a3a" stroke-width="0.3">0.4</text>
<text transform="translate(844.88,794.90)" x="0" y="0" font-size="12" fill="#3a3a3a" font-weight="normal" text-anchor="middle" stroke="#3a3a3a" stroke-width="0.3">0.6</text>
<text transform="translate(752.30,698.42)" x="0" y="0" font-size="12" fill="#3a3a3a" font-weight="normal" text-anchor="end" stroke="#3a3a3a" stroke-width="0.3">0.6</text>
<text transform="translate(874.24,794.90)" x="0" y="0" font-size="12" fill="#3a3a3a" font-weight="normal" text-anchor="middle" stroke="#3a3a3a" stroke-width="0.3">0.8</text>
<text transform="translate(752.30,669.06)" x="0" y="0" font-size="12" fill="#3a3a3a" font-weight="normal" text-anchor="end" stroke="#3a3a3a" stroke-width="0.3">0.8</text>
<path d="M745.2,906.8H751.6 M785.5,906.8H790.7M788.1,904.2V909.4 M803.9,906.8H816.5M806.7,904.6L803.9,906.8L806.7,909.0 M867.9,906.8H880.5M877.7,904.6L880.5,906.8L877.7,909.0 M833.0,901.8V912.0M831.0,909.2L833.0,912.0L835.0,909.2 M851.5,911.8V901.6M849.5,904.4L851.5,901.6L853.5,904.4" stroke="#9a9a9a" stroke-width="1.2" fill="none"/>
<circle cx="768.1" cy="906.8" r="2.7" stroke="#9a9a9a" stroke-width="1.2" fill="none"/>
<text transform="translate(685.70,930.20)" x="0" y="0" font-size="11" fill="#9a9a9a" font-weight="normal" text-anchor="start" textLength="142.8" lengthAdjust="spacingAndGlyphs" >Poisson's ratio in (xy) plane</text>
<path d="M740.21,782.70 C737.69,782.11 730.55,780.74 725.09,779.18 C719.64,777.61 713.32,775.65 707.48,773.30 C701.63,770.96 695.24,768.19 690.01,765.08 C684.77,761.98 679.95,758.75 676.06,754.66 C672.17,750.58 668.52,744.85 666.66,740.57 C664.81,736.29 664.71,733.25 664.90,728.97 C665.10,724.69 665.59,719.55 667.84,714.88 C670.09,710.21 674.71,704.53 678.41,700.93 C682.10,697.34 685.92,694.96 690.01,693.30 C694.09,691.64 698.45,690.85 702.92,690.95 C707.40,691.05 712.42,691.83 716.87,693.89 C721.32,695.94 725.56,699.20 729.64,703.28 C733.73,707.37 738.25,713.34 741.39,718.40 C744.52,723.47 746.48,728.41 748.43,733.67 C750.39,738.93 751.74,744.53 753.13,749.96 C754.52,755.40 756.19,763.54 756.80,766.26 M773.39,782.70 C775.91,782.11 783.05,780.74 788.51,779.18 C793.96,777.61 800.28,775.65 806.12,773.30 C811.97,770.96 818.36,768.19 823.59,765.08 C828.83,761.98 833.65,758.75 837.54,754.66 C841.43,750.58 845.08,744.85 846.94,740.57 C848.79,736.29 848.89,733.25 848.70,728.97 C848.50,724.69 848.01,719.55 845.76,714.88 C843.51,710.21 838.89,704.53 835.19,700.93 C831.50,697.34 827.68,694.96 823.59,693.30 C819.51,691.64 815.15,690.85 810.68,690.95 C806.20,691.05 801.18,691.83 796.73,693.89 C792.28,695.94 788.04,699.20 783.96,703.28 C779.87,707.37 775.35,713.34 772.21,718.40 C769.08,723.47 767.12,728.41 765.17,733.67 C763.21,738.93 761.86,744.53 760.47,749.96 C759.08,755.40 757.41,763.54 756.80,766.26 M740.21,782.70 C737.69,783.29 730.55,784.66 725.09,786.22 C719.64,787.79 713.32,789.75 707.48,792.10 C701.63,794.44 695.24,797.21 690.01,800.32 C684.77,803.42 679.95,806.65 676.06,810.74 C672.17,814.82 668.52,820.55 666.66,824.83 C664.81,829.11 664.71,832.15 664.90,836.43 C665.10,840.71 665.59,845.85 667.84,850.52 C670.09,855.19 674.71,860.87 678.41,864.47 C682.10,868.06 685.92,870.44 690.01,872.10 C694.09,873.76 698.45,874.55 702.92,874.45 C707.40,874.35 712.42,873.57 716.87,871.51 C721.32,869.46 725.56,866.20 729.64,862.12 C733.73,858.03 738.25,852.06 741.39,847.00 C744.52,841.93 746.48,836.99 748.43,831.73 C750.39,826.47 751.74,820.87 753.13,815.44 C754.52,810.00 756.19,801.86 756.80,799.14 M773.39,782.70 C775.91,783.29 783.05,784.66 788.51,786.22 C793.96,787.79 800.28,789.75 806.12,792.10 C811.97,794.44 818.36,797.21 823.59,800.32 C828.83,803.42 833.65,806.65 837.54,810.74 C841.43,814.82 845.08,820.55 846.94,824.83 C848.79,829.11 848.89,832.15 848.70,836.43 C848.50,840.71 848.01,845.85 845.76,850.52 C843.51,855.19 838.89,860.87 835.19,864.47 C831.50,868.06 827.68,870.44 823.59,872.10 C819.51,873.76 815.15,874.55 810.68,874.45 C806.20,874.35 801.18,873.57 796.73,871.51 C792.28,869.46 788.04,866.20 783.96,862.12 C779.87,858.03 775.35,852.06 772.21,847.00 C769.08,841.93 767.12,836.99 765.17,831.73 C763.21,826.47 761.86,820.87 760.47,815.44 C759.08,810.00 757.41,801.86 756.80,799.14 " fill="none" stroke="#dcdcfa" stroke-width="5.4" stroke-linejoin="round" stroke-opacity="0.8"/>
<path d="M740.21,782.70 C737.69,782.11 730.55,780.74 725.09,779.18 C719.64,777.61 713.32,775.65 707.48,773.30 C701.63,770.96 695.24,768.19 690.01,765.08 C684.77,761.98 679.95,758.75 676.06,754.66 C672.17,750.58 668.52,744.85 666.66,740.57 C664.81,736.29 664.71,733.25 664.90,728.97 C665.10,724.69 665.59,719.55 667.84,714.88 C670.09,710.21 674.71,704.53 678.41,700.93 C682.10,697.34 685.92,694.96 690.01,693.30 C694.09,691.64 698.45,690.85 702.92,690.95 C707.40,691.05 712.42,691.83 716.87,693.89 C721.32,695.94 725.56,699.20 729.64,703.28 C733.73,707.37 738.25,713.34 741.39,718.40 C744.52,723.47 746.48,728.41 748.43,733.67 C750.39,738.93 751.74,744.53 753.13,749.96 C754.52,755.40 756.19,763.54 756.80,766.26 M773.39,782.70 C775.91,782.11 783.05,780.74 788.51,779.18 C793.96,777.61 800.28,775.65 806.12,773.30 C811.97,770.96 818.36,768.19 823.59,765.08 C828.83,761.98 833.65,758.75 837.54,754.66 C841.43,750.58 845.08,744.85 846.94,740.57 C848.79,736.29 848.89,733.25 848.70,728.97 C848.50,724.69 848.01,719.55 845.76,714.88 C843.51,710.21 838.89,704.53 835.19,700.93 C831.50,697.34 827.68,694.96 823.59,693.30 C819.51,691.64 815.15,690.85 810.68,690.95 C806.20,691.05 801.18,691.83 796.73,693.89 C792.28,695.94 788.04,699.20 783.96,703.28 C779.87,707.37 775.35,713.34 772.21,718.40 C769.08,723.47 767.12,728.41 765.17,733.67 C763.21,738.93 761.86,744.53 760.47,749.96 C759.08,755.40 757.41,763.54 756.80,766.26 M740.21,782.70 C737.69,783.29 730.55,784.66 725.09,786.22 C719.64,787.79 713.32,789.75 707.48,792.10 C701.63,794.44 695.24,797.21 690.01,800.32 C684.77,803.42 679.95,806.65 676.06,810.74 C672.17,814.82 668.52,820.55 666.66,824.83 C664.81,829.11 664.71,832.15 664.90,836.43 C665.10,840.71 665.59,845.85 667.84,850.52 C670.09,855.19 674.71,860.87 678.41,864.47 C682.10,868.06 685.92,870.44 690.01,872.10 C694.09,873.76 698.45,874.55 702.92,874.45 C707.40,874.35 712.42,873.57 716.87,871.51 C721.32,869.46 725.56,866.20 729.64,862.12 C733.73,858.03 738.25,852.06 741.39,847.00 C744.52,841.93 746.48,836.99 748.43,831.73 C750.39,826.47 751.74,820.87 753.13,815.44 C754.52,810.00 756.19,801.86 756.80,799.14 M773.39,782.70 C775.91,783.29 783.05,784.66 788.51,786.22 C793.96,787.79 800.28,789.75 806.12,792.10 C811.97,794.44 818.36,797.21 823.59,800.32 C828.83,803.42 833.65,806.65 837.54,810.74 C841.43,814.82 845.08,820.55 846.94,824.83 C848.79,829.11 848.89,832.15 848.70,836.43 C848.50,840.71 848.01,845.85 845.76,850.52 C843.51,855.19 838.89,860.87 835.19,864.47 C831.50,868.06 827.68,870.44 823.59,872.10 C819.51,873.76 815.15,874.55 810.68,874.45 C806.20,874.35 801.18,873.57 796.73,871.51 C792.28,869.46 788.04,866.20 783.96,862.12 C779.87,858.03 775.35,852.06 772.21,847.00 C769.08,841.93 767.12,836.99 765.17,831.73 C763.21,826.47 761.86,820.87 760.47,815.44 C759.08,810.00 757.41,801.86 756.80,799.14 " fill="none" stroke="#30308c" stroke-width="2.2" stroke-linejoin="round"/>
<path d="M772.50,782.70 L772.49,782.56 L772.46,782.43 L772.40,782.29 L772.33,782.16 L772.23,782.03 L772.12,781.90 L771.99,781.77 L771.84,781.65 L771.67,781.53 L771.49,781.41 L771.30,781.30 L771.09,781.20 L770.88,781.10 L770.65,781.00 L770.42,780.91 L770.17,780.82 L769.93,780.74 L769.68,780.66 L769.42,780.59 L769.17,780.52 L768.91,780.46 L768.65,780.40 L768.40,780.34 L768.14,780.29 L767.89,780.24 L767.64,780.20 L767.40,780.16 L767.15,780.12 L766.92,780.08 L766.68,780.05 L766.45,780.02 L766.23,780.00 L766.01,779.97 L765.80,779.95 L765.59,779.93 L765.39,779.91 L765.19,779.89 L765.00,779.88 L764.81,779.86 L764.63,779.85 L764.46,779.84 L764.29,779.83 L764.12,779.82 L763.96,779.81 L763.81,779.80 L763.66,779.79 L763.52,779.78 L763.38,779.77 L763.24,779.77 L763.11,779.76 L762.98,779.75 L762.86,779.74 L762.74,779.74 L762.63,779.73 L762.52,779.72 L762.41,779.72 L762.31,779.71 L762.21,779.70 L762.11,779.69 L762.02,779.69 L761.93,779.68 L761.85,779.67 L761.76,779.66 L761.68,779.65 L761.60,779.64 L761.53,779.63 L761.46,779.62 L761.39,779.61 L761.32,779.60 L761.25,779.58 L761.19,779.57 L761.13,779.56 L761.07,779.54 L761.01,779.53 L760.96,779.51 L760.91,779.49 L760.85,779.48 L760.81,779.46 L760.76,779.44 L760.71,779.42 L760.67,779.40 L760.63,779.37 L760.58,779.35 L760.54,779.33 L760.51,779.30 L760.47,779.28 L760.43,779.25 L760.40,779.22 L760.37,779.19 L760.34,779.16 L760.31,779.13 L760.28,779.10 L760.25,779.07 L760.22,779.03 L760.20,778.99 L760.17,778.96 L760.15,778.92 L760.13,778.87 L760.10,778.83 L760.08,778.79 L760.06,778.74 L760.04,778.69 L760.02,778.65 L760.01,778.59 L759.99,778.54 L759.97,778.49 L759.96,778.43 L759.94,778.37 L759.93,778.31 L759.92,778.25 L759.90,778.18 L759.89,778.11 L759.88,778.04 L759.87,777.97 L759.86,777.90 L759.85,777.82 L759.84,777.74 L759.83,777.65 L759.82,777.57 L759.81,777.48 L759.81,777.39 L759.80,777.29 L759.79,777.19 L759.78,777.09 L759.78,776.98 L759.77,776.87 L759.76,776.76 L759.76,776.64 L759.75,776.52 L759.74,776.39 L759.73,776.26 L759.73,776.12 L759.72,775.98 L759.71,775.84 L759.70,775.69 L759.69,775.54 L759.68,775.38 L759.67,775.21 L759.66,775.04 L759.65,774.87 L759.64,774.69 L759.62,774.50 L759.61,774.31 L759.59,774.11 L759.57,773.91 L759.55,773.70 L759.53,773.49 L759.50,773.27 L759.48,773.05 L759.45,772.82 L759.42,772.58 L759.38,772.35 L759.34,772.10 L759.30,771.86 L759.26,771.61 L759.21,771.36 L759.16,771.10 L759.10,770.85 L759.04,770.59 L758.98,770.33 L758.91,770.08 L758.84,769.82 L758.76,769.57 L758.68,769.33 L758.59,769.08 L758.50,768.85 L758.40,768.62 L758.30,768.41 L758.20,768.20 L758.09,768.01 L757.97,767.83 L757.85,767.66 L757.73,767.51 L757.60,767.38 L757.47,767.27 L757.34,767.17 L757.21,767.10 L757.07,767.04 L756.94,767.01 L756.80,767.00 L756.66,767.01 L756.53,767.04 L756.39,767.10 L756.26,767.17 L756.13,767.27 L756.00,767.38 L755.87,767.51 L755.75,767.66 L755.63,767.83 L755.51,768.01 L755.40,768.20 L755.30,768.41 L755.20,768.62 L755.10,768.85 L755.01,769.08 L754.92,769.33 L754.84,769.57 L754.76,769.82 L754.69,770.08 L754.62,770.33 L754.56,770.59 L754.50,770.85 L754.44,771.10 L754.39,771.36 L754.34,771.61 L754.30,771.86 L754.26,772.10 L754.22,772.35 L754.18,772.58 L754.15,772.82 L754.12,773.05 L754.10,773.27 L754.07,773.49 L754.05,773.70 L754.03,773.91 L754.01,774.11 L753.99,774.31 L753.98,774.50 L753.96,774.69 L753.95,774.87 L753.94,775.04 L753.93,775.21 L753.92,775.38 L753.91,775.54 L753.90,775.69 L753.89,775.84 L753.88,775.98 L753.87,776.12 L753.87,776.26 L753.86,776.39 L753.85,776.52 L753.84,776.64 L753.84,776.76 L753.83,776.87 L753.82,776.98 L753.82,777.09 L753.81,777.19 L753.80,777.29 L753.79,777.39 L753.79,777.48 L753.78,777.57 L753.77,777.65 L753.76,777.74 L753.75,777.82 L753.74,777.90 L753.73,777.97 L753.72,778.04 L753.71,778.11 L753.70,778.18 L753.68,778.25 L753.67,778.31 L753.66,778.37 L753.64,778.43 L753.63,778.49 L753.61,778.54 L753.59,778.59 L753.58,778.65 L753.56,778.69 L753.54,778.74 L753.52,778.79 L753.50,778.83 L753.47,778.87 L753.45,778.92 L753.43,778.96 L753.40,778.99 L753.38,779.03 L753.35,779.07 L753.32,779.10 L753.29,779.13 L753.26,779.16 L753.23,779.19 L753.20,779.22 L753.17,779.25 L753.13,779.28 L753.09,779.30 L753.06,779.33 L753.02,779.35 L752.97,779.37 L752.93,779.40 L752.89,779.42 L752.84,779.44 L752.79,779.46 L752.75,779.48 L752.69,779.49 L752.64,779.51 L752.59,779.53 L752.53,779.54 L752.47,779.56 L752.41,779.57 L752.35,779.58 L752.28,779.60 L752.21,779.61 L752.14,779.62 L752.07,779.63 L752.00,779.64 L751.92,779.65 L751.84,779.66 L751.75,779.67 L751.67,779.68 L751.58,779.69 L751.49,779.69 L751.39,779.70 L751.29,779.71 L751.19,779.72 L751.08,779.72 L750.97,779.73 L750.86,779.74 L750.74,779.74 L750.62,779.75 L750.49,779.76 L750.36,779.77 L750.22,779.77 L750.08,779.78 L749.94,779.79 L749.79,779.80 L749.64,779.81 L749.48,779.82 L749.31,779.83 L749.14,779.84 L748.97,779.85 L748.79,779.86 L748.60,779.88 L748.41,779.89 L748.21,779.91 L748.01,779.93 L747.80,779.95 L747.59,779.97 L747.37,780.00 L747.15,780.02 L746.92,780.05 L746.68,780.08 L746.45,780.12 L746.20,780.16 L745.96,780.20 L745.71,780.24 L745.46,780.29 L745.20,780.34 L744.95,780.40 L744.69,780.46 L744.43,780.52 L744.18,780.59 L743.92,780.66 L743.67,780.74 L743.43,780.82 L743.18,780.91 L742.95,781.00 L742.72,781.10 L742.51,781.20 L742.30,781.30 L742.11,781.41 L741.93,781.53 L741.76,781.65 L741.61,781.77 L741.48,781.90 L741.37,782.03 L741.27,782.16 L741.20,782.29 L741.14,782.43 L741.11,782.56 L741.10,782.70 L741.11,782.84 L741.14,782.97 L741.20,783.11 L741.27,783.24 L741.37,783.37 L741.48,783.50 L741.61,783.63 L741.76,783.75 L741.93,783.87 L742.11,783.99 L742.30,784.10 L742.51,784.20 L742.72,784.30 L742.95,784.40 L743.18,784.49 L743.43,784.58 L743.67,784.66 L743.92,784.74 L744.18,784.81 L744.43,784.88 L744.69,784.94 L744.95,785.00 L745.20,785.06 L745.46,785.11 L745.71,785.16 L745.96,785.20 L746.20,785.24 L746.45,785.28 L746.68,785.32 L746.92,785.35 L747.15,785.38 L747.37,785.40 L747.59,785.43 L747.80,785.45 L748.01,785.47 L748.21,785.49 L748.41,785.51 L748.60,785.52 L748.79,785.54 L748.97,785.55 L749.14,785.56 L749.31,785.57 L749.48,785.58 L749.64,785.59 L749.79,785.60 L749.94,785.61 L750.08,785.62 L750.22,785.63 L750.36,785.63 L750.49,785.64 L750.62,785.65 L750.74,785.66 L750.86,785.66 L750.97,785.67 L751.08,785.68 L751.19,785.68 L751.29,785.69 L751.39,785.70 L751.49,785.71 L751.58,785.71 L751.67,785.72 L751.75,785.73 L751.84,785.74 L751.92,785.75 L752.00,785.76 L752.07,785.77 L752.14,785.78 L752.21,785.79 L752.28,785.80 L752.35,785.82 L752.41,785.83 L752.47,785.84 L752.53,785.86 L752.59,785.87 L752.64,785.89 L752.69,785.91 L752.75,785.92 L752.79,785.94 L752.84,785.96 L752.89,785.98 L752.93,786.00 L752.97,786.03 L753.02,786.05 L753.06,786.07 L753.09,786.10 L753.13,786.12 L753.17,786.15 L753.20,786.18 L753.23,786.21 L753.26,786.24 L753.29,786.27 L753.32,786.30 L753.35,786.33 L753.38,786.37 L753.40,786.41 L753.43,786.44 L753.45,786.48 L753.47,786.53 L753.50,786.57 L753.52,786.61 L753.54,786.66 L753.56,786.71 L753.58,786.75 L753.59,786.81 L753.61,786.86 L753.63,786.91 L753.64,786.97 L753.66,787.03 L753.67,787.09 L753.68,787.15 L753.70,787.22 L753.71,787.29 L753.72,787.36 L753.73,787.43 L753.74,787.50 L753.75,787.58 L753.76,787.66 L753.77,787.75 L753.78,787.83 L753.79,787.92 L753.79,788.01 L753.80,788.11 L753.81,788.21 L753.82,788.31 L753.82,788.42 L753.83,788.53 L753.84,788.64 L753.84,788.76 L753.85,788.88 L753.86,789.01 L753.87,789.14 L753.87,789.28 L753.88,789.42 L753.89,789.56 L753.90,789.71 L753.91,789.86 L753.92,790.02 L753.93,790.19 L753.94,790.36 L753.95,790.53 L753.96,790.71 L753.98,790.90 L753.99,791.09 L754.01,791.29 L754.03,791.49 L754.05,791.70 L754.07,791.91 L754.10,792.13 L754.12,792.35 L754.15,792.58 L754.18,792.82 L754.22,793.05 L754.26,793.30 L754.30,793.54 L754.34,793.79 L754.39,794.04 L754.44,794.30 L754.50,794.55 L754.56,794.81 L754.62,795.07 L754.69,795.32 L754.76,795.58 L754.84,795.83 L754.92,796.07 L755.01,796.32 L755.10,796.55 L755.20,796.78 L755.30,796.99 L755.40,797.20 L755.51,797.39 L755.63,797.57 L755.75,797.74 L755.87,797.89 L756.00,798.02 L756.13,798.13 L756.26,798.23 L756.39,798.30 L756.53,798.36 L756.66,798.39 L756.80,798.40 L756.94,798.39 L757.07,798.36 L757.21,798.30 L757.34,798.23 L757.47,798.13 L757.60,798.02 L757.73,797.89 L757.85,797.74 L757.97,797.57 L758.09,797.39 L758.20,797.20 L758.30,796.99 L758.40,796.78 L758.50,796.55 L758.59,796.32 L758.68,796.07 L758.76,795.83 L758.84,795.58 L758.91,795.32 L758.98,795.07 L759.04,794.81 L759.10,794.55 L759.16,794.30 L759.21,794.04 L759.26,793.79 L759.30,793.54 L759.34,793.30 L759.38,793.05 L759.42,792.82 L759.45,792.58 L759.48,792.35 L759.50,792.13 L759.53,791.91 L759.55,791.70 L759.57,791.49 L759.59,791.29 L759.61,791.09 L759.62,790.90 L759.64,790.71 L759.65,790.53 L759.66,790.36 L759.67,790.19 L759.68,790.02 L759.69,789.86 L759.70,789.71 L759.71,789.56 L759.72,789.42 L759.73,789.28 L759.73,789.14 L759.74,789.01 L759.75,788.88 L759.76,788.76 L759.76,788.64 L759.77,788.53 L759.78,788.42 L759.78,788.31 L759.79,788.21 L759.80,788.11 L759.81,788.01 L759.81,787.92 L759.82,787.83 L759.83,787.75 L759.84,787.66 L759.85,787.58 L759.86,787.50 L759.87,787.43 L759.88,787.36 L759.89,787.29 L759.90,787.22 L759.92,787.15 L759.93,787.09 L759.94,787.03 L759.96,786.97 L759.97,786.91 L759.99,786.86 L760.01,786.81 L760.02,786.75 L760.04,786.71 L760.06,786.66 L760.08,786.61 L760.10,786.57 L760.13,786.53 L760.15,786.48 L760.17,786.44 L760.20,786.41 L760.22,786.37 L760.25,786.33 L760.28,786.30 L760.31,786.27 L760.34,786.24 L760.37,786.21 L760.40,786.18 L760.43,786.15 L760.47,786.12 L760.51,786.10 L760.54,786.07 L760.58,786.05 L760.63,786.03 L760.67,786.00 L760.71,785.98 L760.76,785.96 L760.81,785.94 L760.85,785.92 L760.91,785.91 L760.96,785.89 L761.01,785.87 L761.07,785.86 L761.13,785.84 L761.19,785.83 L761.25,785.82 L761.32,785.80 L761.39,785.79 L761.46,785.78 L761.53,785.77 L761.60,785.76 L761.68,785.75 L761.76,785.74 L761.85,785.73 L761.93,785.72 L762.02,785.71 L762.11,785.71 L762.21,785.70 L762.31,785.69 L762.41,785.68 L762.52,785.68 L762.63,785.67 L762.74,785.66 L762.86,785.66 L762.98,785.65 L763.11,785.64 L763.24,785.63 L763.38,785.63 L763.52,785.62 L763.66,785.61 L763.81,785.60 L763.96,785.59 L764.12,785.58 L764.29,785.57 L764.46,785.56 L764.63,785.55 L764.81,785.54 L765.00,785.52 L765.19,785.51 L765.39,785.49 L765.59,785.47 L765.80,785.45 L766.01,785.43 L766.23,785.40 L766.45,785.38 L766.68,785.35 L766.92,785.32 L767.15,785.28 L767.40,785.24 L767.64,785.20 L767.89,785.16 L768.14,785.11 L768.40,785.06 L768.65,785.00 L768.91,784.94 L769.17,784.88 L769.42,784.81 L769.68,784.74 L769.93,784.66 L770.17,784.58 L770.42,784.49 L770.65,784.40 L770.88,784.30 L771.09,784.20 L771.30,784.10 L771.49,783.99 L771.67,783.87 L771.84,783.75 L771.99,783.63 L772.12,783.50 L772.23,783.37 L772.33,783.24 L772.40,783.11 L772.46,782.97 L772.49,782.84Z" fill="#94cc94" stroke="#356b35" stroke-width="1.6" stroke-linejoin="round"/>
<circle cx="756.8" cy="782.7" r="2.2" fill="#d8e8d8" stroke="#6a806a" stroke-width="0.8"/>
<text transform="translate(88.50,66.50)" x="0" y="0" font-size="32" fill="#000" font-weight="normal" text-anchor="start" textLength="40.3" lengthAdjust="spacingAndGlyphs" stroke="#000" stroke-width="1.0">(a)</text>
<text transform="translate(526.90,59.00)" x="0" y="0" font-size="32" fill="#000" font-weight="normal" text-anchor="start" textLength="41.5" lengthAdjust="spacingAndGlyphs" stroke="#000" stroke-width="1.0">(b)</text>
<text transform="translate(88.50,380.60)" x="0" y="0" font-size="32" fill="#000" font-weight="normal" text-anchor="start" textLength="37.4" lengthAdjust="spacingAndGlyphs" stroke="#000" stroke-width="1.0">(c)</text>
<text transform="translate(526.90,374.00)" x="0" y="0" font-size="32" fill="#000" font-weight="normal" text-anchor="start" textLength="41.5" lengthAdjust="spacingAndGlyphs" stroke="#000" stroke-width="1.0">(d)</text>
<text transform="translate(93.50,700.00)" x="0" y="0" font-size="32" fill="#000" font-weight="normal" text-anchor="start" textLength="40.3" lengthAdjust="spacingAndGlyphs" stroke="#000" stroke-width="1.0">(e)</text>
<text transform="translate(538.20,687.20)" x="0" y="0" font-size="32" fill="#000" font-weight="normal" text-anchor="start" textLength="34.5" lengthAdjust="spacingAndGlyphs" stroke="#000" stroke-width="1.0">(f)</text>
<text transform="translate(118.00,196.40) rotate(-90)" x="0" y="0" font-size="56.5" fill="#c00000" font-weight="bold" text-anchor="start" textLength="69.5" lengthAdjust="spacingAndGlyphs" >3D</text>
<text transform="translate(128.80,536.60) rotate(-90)" x="0" y="0" font-size="56.5" fill="#c00000" font-weight="bold" text-anchor="start" textLength="69.5" lengthAdjust="spacingAndGlyphs" >3D</text>
<text transform="translate(130.00,860.40) rotate(-90)" x="0" y="0" font-size="56.5" fill="#c00000" font-weight="bold" text-anchor="start" textLength="69.5" lengthAdjust="spacingAndGlyphs" >3D</text>
<text transform="translate(576.30,193.00) rotate(-90)" x="0" y="0" font-size="55" fill="#c00000" font-weight="bold" text-anchor="start" textLength="68.8" lengthAdjust="spacingAndGlyphs" >2D</text>
<text transform="translate(573.00,516.70) rotate(-90)" x="0" y="0" font-size="55" fill="#c00000" font-weight="bold" text-anchor="start" textLength="66.7" lengthAdjust="spacingAndGlyphs" >2D</text>
<text transform="translate(583.70,819.70) rotate(-90)" x="0" y="0" font-size="55" fill="#c00000" font-weight="bold" text-anchor="start" textLength="68.7" lengthAdjust="spacingAndGlyphs" >2D</text>
<text transform="translate(935.30,250.60) rotate(-90)" x="0" y="0" font-size="32" fill="#a81010" font-weight="bold" text-anchor="start" textLength="230" lengthAdjust="spacingAndGlyphs" >Young Modulus</text>
<text transform="translate(934.30,572.40) rotate(-90)" x="0" y="0" font-size="32" fill="#a81010" font-weight="bold" text-anchor="start" textLength="222.2" lengthAdjust="spacingAndGlyphs" >Shear Modulus</text>
<text transform="translate(935.30,869.20) rotate(-90)" x="0" y="0" font-size="32" fill="#a81010" font-weight="bold" text-anchor="start" textLength="197.6" lengthAdjust="spacingAndGlyphs" >Poisson Ratio</text>
<text transform="translate(59.90,513.30) rotate(-90)" x="0" y="0" font-size="68.2" fill="#c00000" font-weight="bold" text-anchor="start" textLength="187.4" lengthAdjust="spacingAndGlyphs" >LiSbCl</text>
<text transform="translate(79.80,324.10) rotate(-90)" x="0" y="0" font-size="50.8" fill="#c00000" font-weight="bold" text-anchor="start" textLength="23.4" lengthAdjust="spacingAndGlyphs" >3</text>
</svg></body></html>
